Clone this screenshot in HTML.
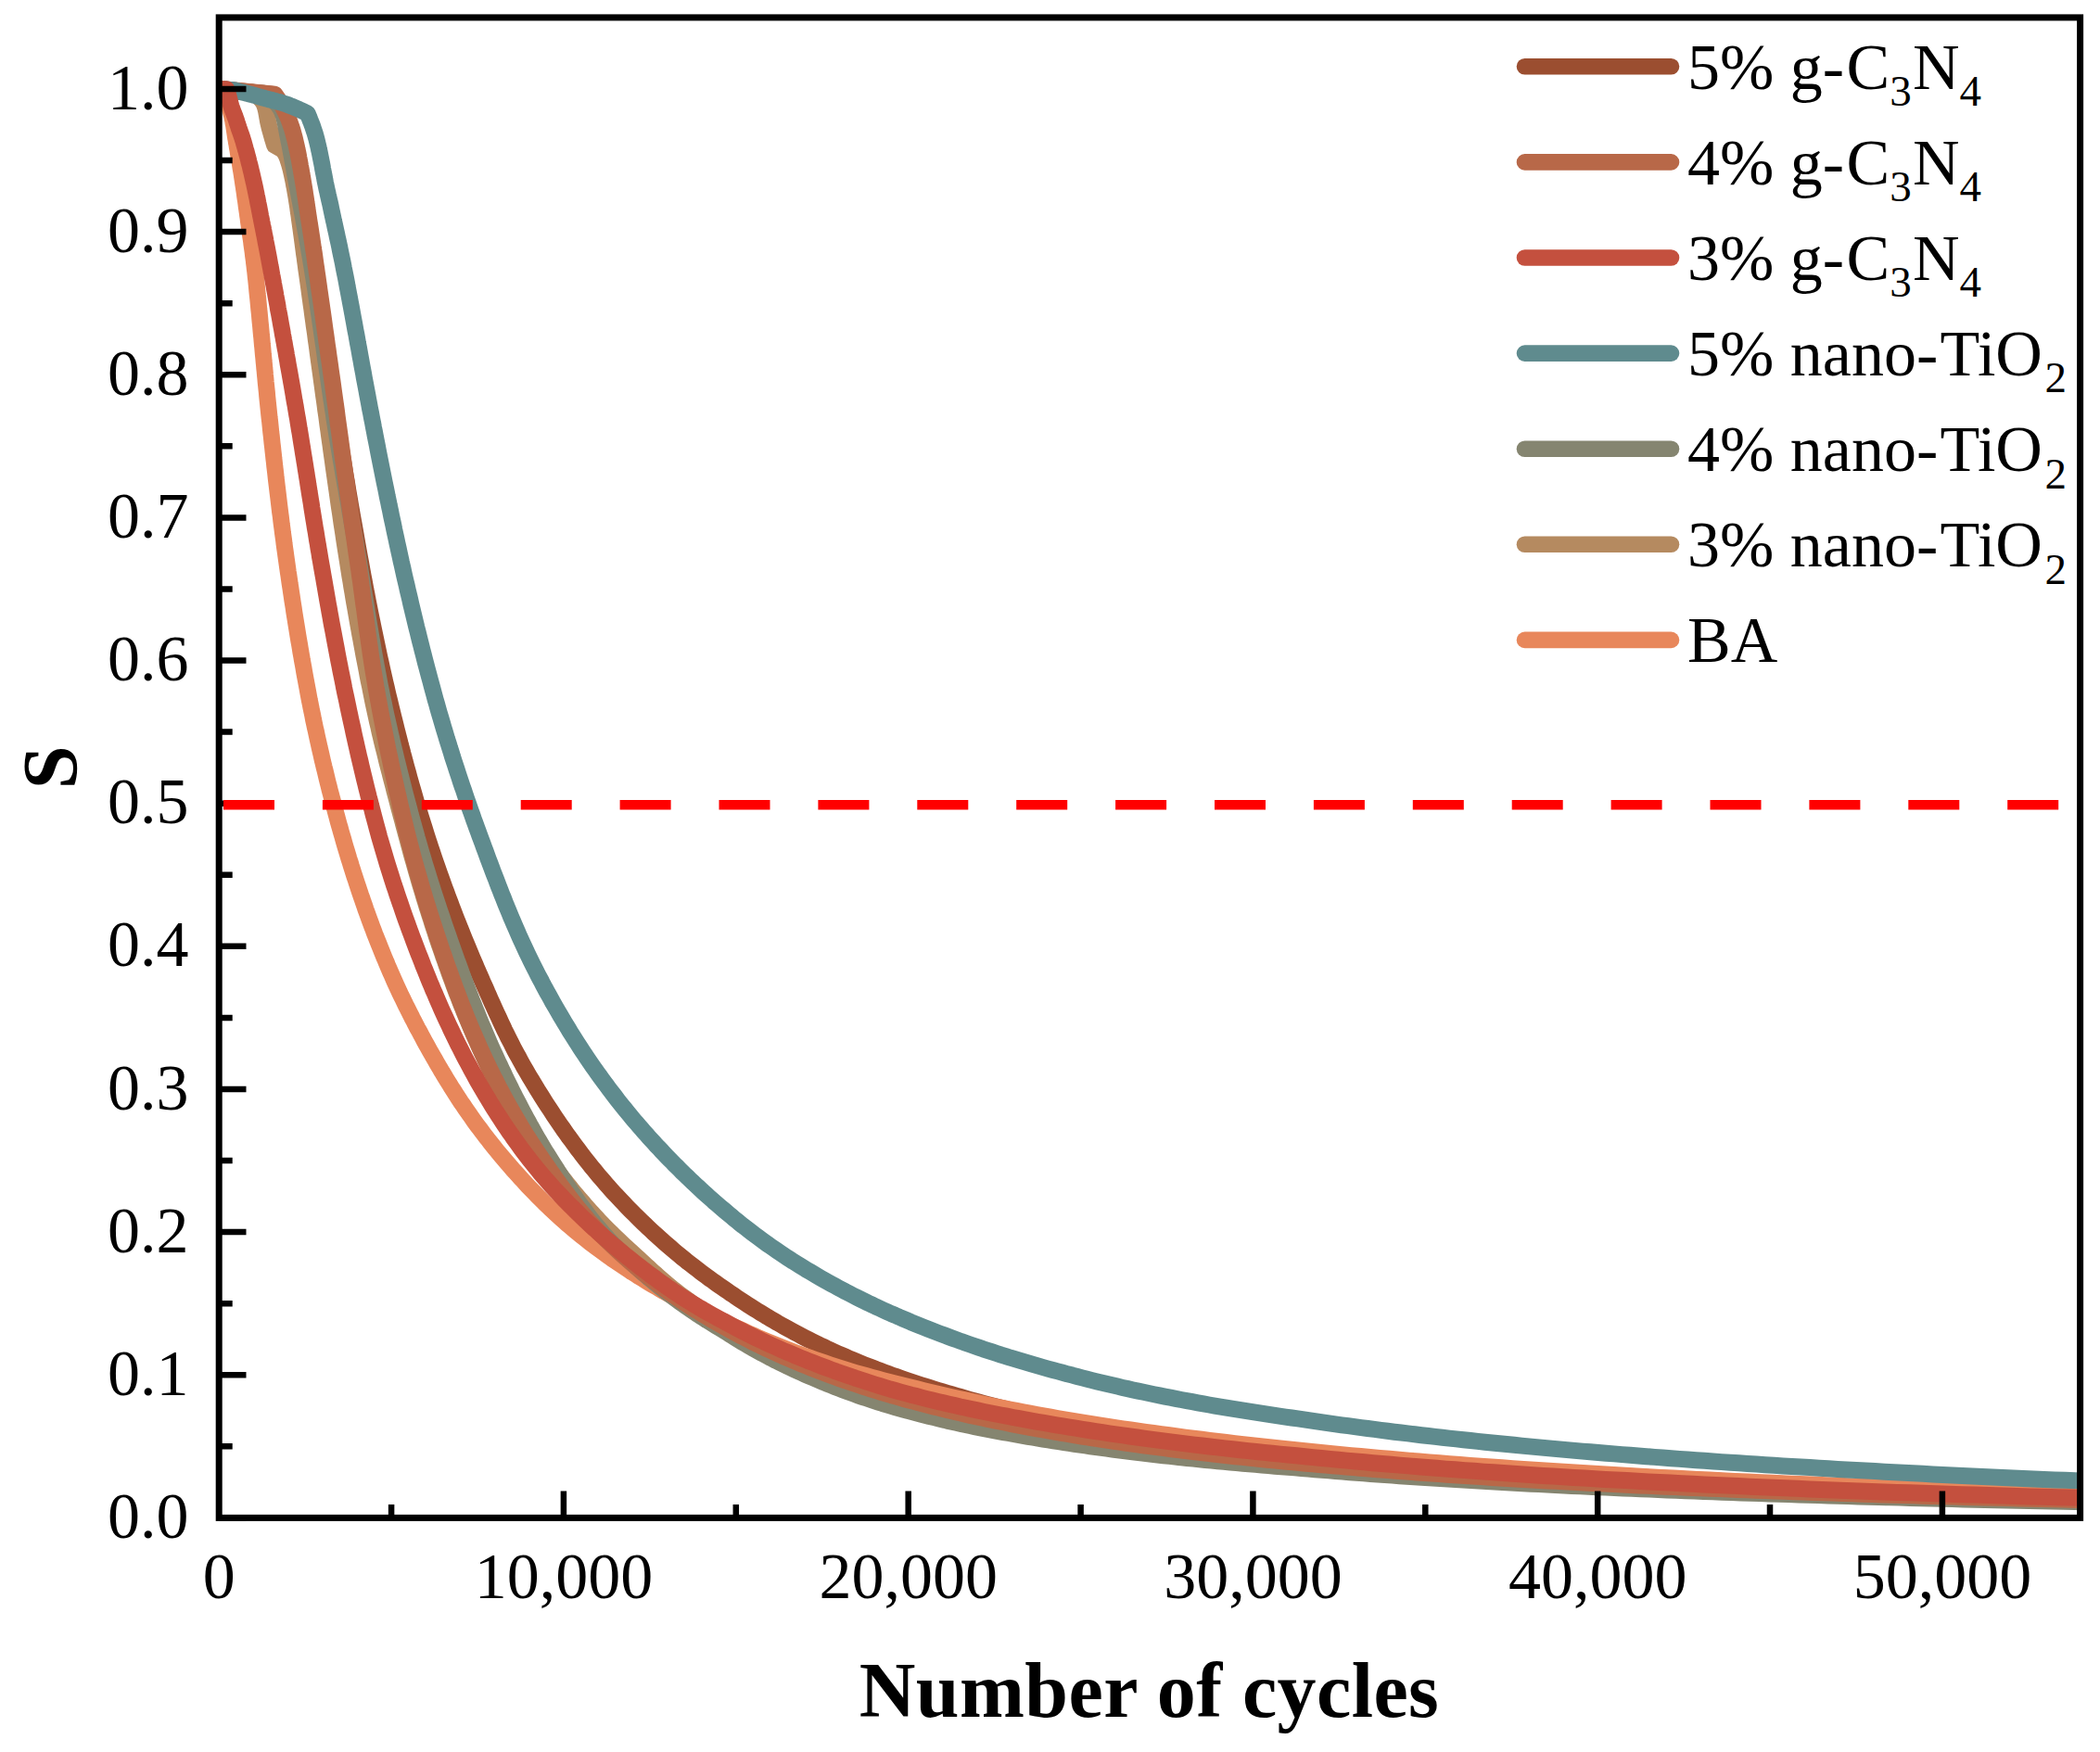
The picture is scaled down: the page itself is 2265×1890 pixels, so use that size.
<!DOCTYPE html>
<html><head><meta charset="utf-8"><title>S vs Number of cycles</title>
<style>html,body{margin:0;padding:0;background:#fff}svg{display:block}</style></head>
<body>
<svg width="2265" height="1890" viewBox="0 0 2265 1890">
<rect width="2265" height="1890" fill="#fff"/>
<defs><clipPath id="c"><rect x="236.2" y="18.9" width="2007.3999999999999" height="1618.5"/></clipPath></defs>
<g clip-path="url(#c)" fill="none" stroke-linejoin="round" stroke-linecap="butt">
<path d="M236.2,96.0 L295.0,102.0 L296.9,104.5 L298.7,107.1 L300.4,109.8 L302.1,112.4 L303.7,115.1 L305.2,117.8 L306.6,120.5 L308.0,123.3 L309.3,126.1 L310.5,128.9 L311.6,131.8 L312.6,134.7 L313.6,137.7 L314.5,140.7 L315.4,143.7 L316.2,146.7 L316.9,149.7 L317.7,152.7 L318.4,155.7 L319.0,158.7 L319.7,161.7 L320.3,164.8 L320.9,167.8 L321.5,170.9 L322.1,174.0 L322.6,177.0 L323.2,180.1 L323.7,183.1 L324.3,186.2 L324.8,189.3 L325.3,192.3 L325.9,195.4 L326.4,198.4 L326.9,201.5 L327.4,204.6 L327.9,207.6 L328.4,210.7 L328.9,213.8 L329.4,216.8 L329.8,219.9 L330.3,223.0 L330.8,226.0 L331.2,229.1 L331.7,232.2 L332.2,235.6 L332.8,239.7 L333.4,243.7 L334.0,247.9 L334.6,252.1 L335.2,256.3 L335.8,260.6 L336.4,265.0 L337.0,269.4 L337.6,273.8 L338.2,278.3 L338.9,282.8 L339.5,287.4 L340.1,292.0 L340.8,296.7 L341.4,301.4 L342.0,306.2 L342.7,311.0 L343.4,315.8 L344.0,320.7 L344.7,325.6 L345.4,330.5 L346.1,335.5 L346.7,340.4 L347.4,345.5 L348.2,350.5 L348.9,355.6 L349.6,360.7 L350.3,365.8 L351.0,370.9 L351.8,376.1 L352.5,381.3 L353.2,386.5 L354.0,391.7 L354.8,396.9 L355.5,402.2 L356.3,407.4 L357.0,412.7 L357.8,418.0 L358.6,423.2 L359.4,428.5 L360.2,433.8 L361.0,439.1 L361.8,444.4 L362.5,449.7 L363.4,455.1 L364.2,460.4 L365.0,465.7 L365.8,471.0 L366.7,476.3 L367.5,481.6 L368.3,486.9 L369.2,492.2 L370.1,497.5 L370.9,502.8 L371.8,508.1 L372.7,513.4 L373.6,518.6 L374.5,523.9 L375.3,529.2 L376.2,534.4 L377.1,539.6 L378.0,544.9 L378.9,550.1 L379.8,555.3 L380.7,560.4 L381.7,565.6 L382.6,570.8 L383.5,575.9 L384.4,581.0 L385.3,586.2 L386.2,591.3 L387.1,596.4 L388.0,601.4 L389.0,606.5 L389.9,611.5 L390.8,616.5 L391.7,621.6 L392.7,626.5 L393.6,631.5 L394.5,636.5 L395.5,641.4 L396.4,646.4 L397.4,651.3 L398.4,656.2 L399.3,661.0 L400.3,665.9 L401.3,670.7 L402.3,675.6 L403.3,680.4 L404.3,685.2 L405.3,689.9 L406.3,694.7 L407.3,699.4 L408.3,704.2 L409.3,708.9 L410.4,713.6 L411.4,718.2 L412.4,722.9 L413.5,727.5 L414.5,732.2 L415.6,736.8 L416.7,741.4 L417.7,745.9 L418.8,750.5 L419.9,755.0 L421.0,759.6 L422.1,764.1 L423.2,768.6 L424.3,773.1 L425.4,777.5 L426.5,782.0 L427.6,786.4 L428.7,790.9 L429.9,795.3 L431.0,799.7 L432.1,804.1 L433.3,808.4 L434.4,812.8 L435.6,817.1 L436.7,821.5 L437.9,825.8 L439.1,830.1 L440.3,834.4 L441.4,838.7 L442.6,843.0 L443.8,847.2 L445.1,851.5 L446.3,855.7 L447.5,859.9 L448.7,864.1 L450.0,868.3 L451.2,872.5 L452.5,876.7 L453.8,880.9 L455.1,885.0 L456.4,889.2 L457.7,893.3 L459.0,897.4 L460.3,901.6 L461.6,905.7 L463.0,909.8 L464.3,913.9 L465.7,917.9 L467.0,922.0 L468.4,926.1 L469.8,930.1 L471.2,934.2 L472.6,938.2 L474.0,942.2 L475.5,946.3 L476.9,950.3 L478.3,954.3 L479.8,958.3 L481.3,962.2 L482.7,966.2 L484.2,970.2 L485.7,974.1 L487.2,978.1 L488.7,982.0 L490.2,986.0 L491.7,989.9 L493.3,993.8 L494.8,997.7 L496.4,1001.6 L497.9,1005.5 L499.5,1009.4 L501.1,1013.3 L502.7,1017.2 L504.3,1021.0 L505.9,1024.9 L507.5,1028.7 L509.1,1032.6 L510.7,1036.4 L512.4,1040.2 L514.0,1044.1 L515.7,1047.9 L517.3,1051.7 L519.0,1055.5 L520.6,1059.2 L522.3,1063.0 L524.0,1066.8 L525.6,1070.6 L527.3,1074.3 L528.9,1078.0 L530.6,1081.8 L532.3,1085.5 L534.0,1089.2 L535.7,1092.9 L537.4,1096.6 L539.1,1100.3 L540.8,1104.0 L542.6,1107.7 L544.3,1111.4 L546.1,1115.0 L547.9,1118.7 L549.7,1122.3 L551.6,1125.9 L553.4,1129.6 L555.3,1133.2 L557.2,1136.8 L559.2,1140.3 L561.1,1143.9 L563.1,1147.5 L565.1,1151.1 L567.2,1154.6 L569.2,1158.1 L571.3,1161.7 L573.4,1165.2 L575.5,1168.7 L577.6,1172.2 L579.7,1175.7 L581.9,1179.1 L584.1,1182.6 L586.2,1186.0 L588.4,1189.5 L590.6,1192.9 L592.9,1196.3 L595.1,1199.7 L597.3,1203.1 L599.6,1206.5 L601.9,1209.8 L604.2,1213.2 L606.5,1216.5 L608.8,1219.9 L611.2,1223.2 L613.5,1226.5 L615.9,1229.7 L618.3,1233.0 L620.7,1236.3 L623.1,1239.5 L625.6,1242.7 L628.0,1246.0 L630.5,1249.2 L633.0,1252.3 L635.5,1255.5 L638.0,1258.7 L640.6,1261.8 L643.1,1264.9 L645.7,1268.1 L648.4,1271.2 L651.0,1274.2 L653.7,1277.3 L656.4,1280.4 L659.1,1283.4 L661.8,1286.4 L664.6,1289.4 L667.4,1292.4 L670.2,1295.4 L673.0,1298.3 L675.8,1301.3 L678.6,1304.2 L681.5,1307.1 L684.4,1310.0 L687.3,1312.9 L690.2,1315.7 L693.1,1318.6 L696.1,1321.4 L699.0,1324.2 L702.0,1327.0 L705.0,1329.8 L708.0,1332.5 L711.0,1335.2 L714.1,1338.0 L717.1,1340.7 L720.2,1343.4 L723.3,1346.0 L726.4,1348.7 L729.5,1351.3 L732.6,1353.9 L735.7,1356.5 L738.9,1359.1 L742.1,1361.7 L745.4,1364.2 L748.6,1366.7 L751.9,1369.2 L755.1,1371.7 L758.5,1374.2 L761.8,1376.7 L765.1,1379.1 L768.5,1381.5 L771.8,1383.9 L775.2,1386.3 L778.6,1388.7 L782.0,1391.0 L785.5,1393.4 L788.9,1395.8 L792.4,1398.1 L795.8,1400.5 L799.3,1402.8 L802.8,1405.1 L806.3,1407.3 L809.9,1409.6 L813.4,1411.8 L816.9,1414.0 L820.5,1416.2 L824.1,1418.4 L827.6,1420.6 L831.2,1422.7 L834.8,1424.8 L838.5,1427.0 L842.1,1429.0 L845.8,1431.1 L849.5,1433.2 L853.2,1435.2 L857.0,1437.2 L860.7,1439.2 L864.5,1441.2 L868.3,1443.2 L872.1,1445.1 L876.0,1447.0 L879.9,1449.0 L883.7,1450.9 L887.7,1452.7 L891.6,1454.6 L895.6,1456.4 L899.6,1458.3 L903.6,1460.1 L907.6,1461.8 L911.7,1463.6 L915.8,1465.4 L919.9,1467.1 L924.0,1468.8 L928.2,1470.5 L932.3,1472.2 L936.6,1473.9 L940.8,1475.5 L945.0,1477.2 L949.3,1478.8 L953.7,1480.4 L958.0,1482.0 L962.4,1483.6 L966.8,1485.1 L971.2,1486.7 L975.6,1488.2 L980.1,1489.7 L984.6,1491.2 L989.1,1492.7 L993.7,1494.2 L998.3,1495.6 L1002.9,1497.1 L1007.5,1498.5 L1012.2,1500.0 L1016.9,1501.4 L1021.6,1502.8 L1026.4,1504.2 L1031.2,1505.6 L1036.0,1507.0 L1040.8,1508.4 L1045.7,1509.8 L1050.6,1511.2 L1055.5,1512.5 L1060.5,1513.9 L1065.4,1515.2 L1070.4,1516.5 L1075.5,1517.8 L1080.6,1519.0 L1085.7,1520.3 L1090.8,1521.5 L1096.0,1522.7 L1101.1,1523.9 L1106.4,1525.0 L1111.6,1526.2 L1116.9,1527.3 L1122.2,1528.4 L1127.6,1529.5 L1133.0,1530.6 L1138.4,1531.7 L1143.8,1532.7 L1149.3,1533.8 L1154.8,1534.8 L1160.4,1535.9 L1166.0,1536.9 L1171.6,1537.9 L1177.3,1538.9 L1182.9,1539.9 L1188.7,1540.8 L1194.4,1541.8 L1200.2,1542.7 L1206.1,1543.7 L1211.9,1544.6 L1217.8,1545.5 L1223.8,1546.4 L1229.7,1547.3 L1235.8,1548.2 L1241.8,1549.1 L1247.9,1550.0 L1254.0,1550.9 L1260.2,1551.7 L1266.4,1552.6 L1272.6,1553.4 L1278.9,1554.2 L1285.2,1555.0 L1291.6,1555.8 L1298.0,1556.6 L1304.4,1557.4 L1310.9,1558.2 L1317.4,1559.0 L1324.0,1559.7 L1330.6,1560.5 L1337.2,1561.2 L1343.9,1561.9 L1350.7,1562.7 L1357.5,1563.4 L1364.4,1564.1 L1371.3,1564.8 L1378.2,1565.5 L1385.2,1566.2 L1392.3,1566.9 L1399.3,1567.5 L1406.4,1568.2 L1413.6,1568.9 L1420.8,1569.5 L1428.0,1570.2 L1435.3,1570.8 L1442.7,1571.5 L1450.1,1572.1 L1457.5,1572.7 L1465.0,1573.3 L1472.5,1573.9 L1480.0,1574.6 L1487.6,1575.2 L1495.3,1575.7 L1503.0,1576.3 L1510.8,1576.9 L1518.5,1577.5 L1526.4,1578.1 L1534.3,1578.6 L1542.2,1579.2 L1550.2,1579.7 L1558.3,1580.3 L1566.3,1580.8 L1574.5,1581.4 L1582.7,1581.9 L1590.9,1582.4 L1599.2,1582.9 L1607.5,1583.5 L1615.9,1584.1 L1624.4,1584.7 L1632.9,1585.2 L1641.4,1585.8 L1650.0,1586.4 L1658.6,1586.9 L1667.3,1587.5 L1676.1,1588.0 L1684.9,1588.6 L1693.8,1589.1 L1702.7,1589.6 L1711.7,1590.2 L1720.7,1590.7 L1729.8,1591.2 L1738.9,1591.8 L1748.1,1592.3 L1757.4,1592.8 L1766.7,1593.3 L1776.0,1593.8 L1785.4,1594.3 L1794.9,1594.8 L1804.5,1595.3 L1814.0,1595.8 L1823.7,1596.3 L1833.4,1596.8 L1843.2,1597.3 L1853.0,1597.8 L1862.9,1598.2 L1872.9,1598.7 L1882.9,1599.2 L1892.9,1599.7 L1903.1,1600.1 L1913.3,1600.6 L1923.5,1601.1 L1933.9,1601.5 L1944.2,1602.0 L1954.7,1602.4 L1965.2,1602.9 L1975.8,1603.3 L1986.4,1603.8 L1997.1,1604.2 L2007.9,1604.6 L2018.7,1605.1 L2029.7,1605.5 L2040.6,1606.0 L2051.7,1606.4 L2062.8,1606.8 L2073.9,1607.2 L2085.2,1607.7 L2096.5,1608.1 L2107.9,1608.5 L2119.3,1608.9 L2130.8,1609.3 L2142.4,1609.7 L2154.1,1610.1 L2165.8,1610.5 L2177.6,1610.9 L2189.5,1611.3 L2201.5,1611.7 L2213.5,1612.1 L2225.6,1612.5 L2237.8,1612.9 L2250.0,1613.3" stroke="#9b4e30" stroke-width="18"/>
<path d="M226.0,96.5 L236.2,96.5 L238.3,98.2 L240.1,100.1 L241.5,102.2 L242.8,104.5 L244.0,106.9 L245.1,109.3 L246.1,111.9 L247.0,114.5 L247.9,117.1 L248.7,119.7 L249.4,122.3 L250.1,124.9 L250.6,127.4 L251.2,130.0 L251.6,132.7 L252.1,135.3 L252.5,138.0 L252.9,140.6 L253.3,143.3 L253.7,145.9 L254.1,148.5 L254.6,151.2 L255.0,153.8 L255.5,156.4 L255.9,159.1 L256.4,161.7 L256.8,164.3 L257.2,166.9 L257.7,169.6 L258.1,172.2 L258.6,174.8 L259.0,177.5 L259.4,180.1 L259.8,182.7 L260.3,185.4 L260.7,188.0 L261.1,190.6 L261.5,193.3 L261.9,195.9 L262.3,198.6 L262.7,201.2 L263.1,203.8 L263.5,206.5 L263.9,209.1 L264.2,211.7 L264.6,214.4 L265.0,217.0 L265.4,219.7 L265.7,222.3 L266.1,224.9 L266.5,227.6 L266.9,230.2 L267.2,232.9 L267.6,235.4 L267.9,237.9 L268.2,240.4 L268.6,242.9 L268.9,245.4 L269.3,248.0 L269.7,250.6 L270.0,253.2 L270.4,255.9 L270.8,258.5 L271.2,261.2 L271.5,264.0 L271.9,266.7 L272.3,269.5 L272.7,272.3 L273.0,275.2 L273.4,278.0 L273.8,280.9 L274.1,283.8 L274.5,286.8 L274.8,289.7 L275.2,292.7 L275.5,295.7 L275.8,298.8 L276.2,301.8 L276.5,304.9 L276.8,308.0 L277.1,311.2 L277.4,314.3 L277.7,317.5 L278.1,320.8 L278.4,324.0 L278.7,327.3 L279.0,330.5 L279.3,333.8 L279.7,337.2 L280.0,340.5 L280.3,343.9 L280.6,347.3 L281.0,350.7 L281.3,354.2 L281.6,357.6 L281.9,361.1 L282.3,364.6 L282.6,368.2 L282.9,371.7 L283.3,375.3 L283.6,378.9 L283.9,382.5 L284.3,386.1 L284.6,389.8 L285.0,393.5 L285.3,397.2 L285.7,400.9 L286.0,404.6 L286.4,408.4 L286.7,412.1 L287.1,415.9 L287.5,419.7 L287.9,423.5 L288.2,427.4 L288.6,431.2 L289.0,435.1 L289.4,439.0 L289.8,442.9 L290.2,446.8 L290.6,450.7 L291.1,454.7 L291.5,458.6 L291.9,462.6 L292.3,466.6 L292.8,470.6 L293.2,474.6 L293.6,478.6 L294.1,482.7 L294.5,486.7 L295.0,490.8 L295.4,494.9 L295.9,499.0 L296.3,503.1 L296.8,507.2 L297.3,511.3 L297.7,515.5 L298.2,519.6 L298.7,523.8 L299.2,527.9 L299.7,532.1 L300.2,536.3 L300.7,540.5 L301.2,544.7 L301.7,548.9 L302.2,553.1 L302.8,557.3 L303.3,561.6 L303.8,565.8 L304.4,570.0 L304.9,574.3 L305.5,578.6 L306.1,582.8 L306.6,587.1 L307.2,591.4 L307.8,595.6 L308.4,599.9 L309.0,604.2 L309.6,608.5 L310.2,612.8 L310.8,617.1 L311.5,621.4 L312.1,625.7 L312.7,630.0 L313.4,634.3 L314.0,638.6 L314.7,643.0 L315.3,647.3 L316.0,651.6 L316.7,655.9 L317.3,660.2 L318.0,664.6 L318.7,668.9 L319.4,673.2 L320.1,677.5 L320.8,681.9 L321.5,686.2 L322.2,690.5 L323.0,694.8 L323.7,699.1 L324.4,703.5 L325.2,707.8 L325.9,712.1 L326.7,716.4 L327.5,720.7 L328.2,725.0 L329.0,729.3 L329.8,733.6 L330.6,737.9 L331.4,742.2 L332.2,746.5 L333.0,750.8 L333.8,755.1 L334.7,759.4 L335.5,763.7 L336.4,767.9 L337.3,772.2 L338.1,776.5 L339.0,780.7 L339.9,785.0 L340.9,789.2 L341.8,793.5 L342.7,797.7 L343.7,802.0 L344.6,806.2 L345.6,810.4 L346.6,814.6 L347.5,818.8 L348.5,823.0 L349.5,827.2 L350.6,831.4 L351.6,835.6 L352.6,839.8 L353.6,844.0 L354.7,848.1 L355.7,852.3 L356.8,856.4 L357.9,860.6 L359.0,864.7 L360.1,868.8 L361.2,873.0 L362.3,877.1 L363.4,881.2 L364.5,885.3 L365.6,889.3 L366.8,893.4 L367.9,897.5 L369.1,901.5 L370.3,905.6 L371.4,909.6 L372.6,913.7 L373.8,917.7 L375.0,921.7 L376.2,925.7 L377.5,929.7 L378.7,933.7 L380.0,937.7 L381.2,941.6 L382.5,945.6 L383.8,949.5 L385.1,953.5 L386.4,957.4 L387.7,961.3 L389.0,965.2 L390.4,969.1 L391.7,973.0 L393.1,976.9 L394.4,980.8 L395.8,984.6 L397.2,988.5 L398.6,992.3 L400.0,996.1 L401.4,1000.0 L402.9,1003.8 L404.3,1007.6 L405.8,1011.3 L407.3,1015.1 L408.8,1018.9 L410.3,1022.6 L411.8,1026.4 L413.3,1030.1 L414.8,1033.8 L416.4,1037.5 L417.9,1041.2 L419.5,1044.9 L421.1,1048.6 L422.7,1052.2 L424.3,1055.9 L425.9,1059.5 L427.6,1063.2 L429.3,1066.8 L430.9,1070.4 L432.6,1074.0 L434.4,1077.6 L436.1,1081.1 L437.8,1084.7 L439.6,1088.2 L441.4,1091.8 L443.2,1095.3 L444.9,1098.8 L446.8,1102.3 L448.6,1105.8 L450.4,1109.3 L452.3,1112.7 L454.1,1116.2 L456.0,1119.6 L457.8,1123.1 L459.7,1126.5 L461.6,1129.9 L463.5,1133.3 L465.4,1136.7 L467.3,1140.0 L469.3,1143.4 L471.2,1146.8 L473.1,1150.1 L475.1,1153.4 L477.0,1156.7 L479.0,1160.0 L481.0,1163.3 L483.0,1166.6 L485.0,1169.8 L487.0,1173.1 L489.1,1176.3 L491.2,1179.6 L493.2,1182.8 L495.3,1186.0 L497.4,1189.2 L499.6,1192.3 L501.7,1195.5 L503.9,1198.7 L506.1,1201.8 L508.3,1204.9 L510.5,1208.1 L512.7,1211.2 L515.0,1214.3 L517.3,1217.3 L519.6,1220.4 L521.9,1223.5 L524.2,1226.5 L526.6,1229.5 L528.9,1232.5 L531.3,1235.6 L533.7,1238.5 L536.1,1241.5 L538.6,1244.5 L541.1,1247.5 L543.6,1250.4 L546.1,1253.3 L548.6,1256.3 L551.1,1259.2 L553.6,1262.1 L556.2,1264.9 L558.8,1267.8 L561.4,1270.7 L564.0,1273.5 L566.6,1276.3 L569.2,1279.2 L571.9,1282.0 L574.6,1284.8 L577.3,1287.6 L580.0,1290.3 L582.7,1293.1 L585.5,1295.8 L588.3,1298.6 L591.1,1301.3 L593.9,1304.0 L596.8,1306.7 L599.7,1309.4 L602.6,1312.0 L605.6,1314.7 L608.5,1317.3 L611.5,1320.0 L614.6,1322.6 L617.6,1325.2 L620.7,1327.8 L623.8,1330.4 L627.0,1333.0 L630.2,1335.5 L633.4,1338.1 L636.6,1340.6 L639.9,1343.1 L643.2,1345.6 L646.6,1348.1 L650.0,1350.6 L653.4,1353.1 L656.9,1355.5 L660.3,1358.0 L663.8,1360.4 L667.4,1362.8 L670.9,1365.2 L674.5,1367.6 L678.2,1370.0 L681.8,1372.4 L685.5,1374.7 L689.2,1377.1 L693.0,1379.4 L696.8,1381.7 L700.6,1384.1 L704.5,1386.3 L708.4,1388.6 L712.3,1390.9 L716.2,1393.2 L720.2,1395.4 L724.3,1397.6 L728.3,1399.9 L732.4,1402.1 L736.6,1404.3 L740.7,1406.4 L745.0,1408.6 L749.2,1410.8 L753.5,1412.9 L757.8,1415.1 L762.2,1417.2 L766.6,1419.3 L771.0,1421.4 L775.5,1423.5 L780.0,1425.5 L784.6,1427.8 L789.2,1430.0 L793.8,1432.2 L798.5,1434.3 L803.2,1436.5 L807.9,1438.6 L812.7,1440.8 L817.5,1442.9 L822.4,1445.0 L827.3,1447.0 L832.3,1449.1 L837.3,1451.1 L842.3,1453.1 L847.4,1455.1 L852.5,1457.1 L857.6,1459.1 L862.8,1461.0 L868.1,1462.9 L873.4,1464.8 L878.7,1466.7 L884.1,1468.6 L889.5,1470.4 L895.0,1472.2 L900.5,1474.0 L906.1,1475.8 L911.7,1477.6 L917.3,1479.3 L923.0,1481.0 L928.8,1482.7 L934.6,1484.3 L940.4,1485.9 L946.3,1487.5 L952.3,1489.1 L958.3,1490.7 L964.3,1492.2 L970.4,1493.8 L976.6,1495.3 L982.8,1496.8 L989.0,1498.3 L995.3,1499.9 L1001.7,1501.4 L1008.1,1502.9 L1014.5,1504.5 L1021.1,1506.0 L1027.6,1507.5 L1034.3,1509.0 L1040.9,1510.4 L1047.7,1511.9 L1054.5,1513.4 L1061.3,1514.8 L1068.2,1516.2 L1075.2,1517.7 L1082.2,1519.1 L1089.3,1520.5 L1096.5,1521.9 L1103.7,1523.3 L1110.9,1524.6 L1118.3,1526.0 L1125.6,1527.3 L1133.1,1528.7 L1140.6,1530.0 L1148.2,1531.3 L1155.8,1532.6 L1163.5,1533.9 L1171.3,1535.1 L1179.1,1536.4 L1187.0,1537.6 L1195.0,1538.9 L1203.0,1540.1 L1211.1,1541.3 L1219.2,1542.5 L1227.5,1543.7 L1235.8,1544.9 L1244.1,1546.0 L1252.6,1547.2 L1261.1,1548.3 L1269.7,1549.5 L1278.3,1550.6 L1287.1,1551.7 L1295.9,1552.8 L1304.7,1553.9 L1313.7,1555.0 L1322.7,1556.0 L1331.8,1557.1 L1341.0,1558.1 L1350.2,1559.2 L1359.6,1560.2 L1369.0,1561.2 L1378.4,1562.2 L1388.0,1563.2 L1397.7,1564.2 L1407.4,1565.2 L1417.2,1566.2 L1427.1,1567.2 L1437.0,1568.1 L1447.1,1569.1 L1457.2,1570.1 L1467.5,1571.0 L1477.8,1572.0 L1488.2,1572.9 L1498.7,1573.8 L1509.2,1574.7 L1519.9,1575.6 L1530.6,1576.5 L1541.5,1577.4 L1552.4,1578.3 L1563.4,1579.2 L1574.5,1580.0 L1585.7,1580.9 L1597.0,1581.7 L1608.4,1582.5 L1619.9,1583.3 L1631.5,1584.2 L1643.2,1585.0 L1655.0,1585.7 L1666.9,1586.5 L1678.8,1587.3 L1690.9,1588.1 L1703.1,1588.8 L1715.4,1589.6 L1727.8,1590.3 L1740.3,1591.1 L1752.9,1591.8 L1765.6,1592.5 L1778.4,1593.2 L1791.3,1593.9 L1804.3,1594.6 L1817.4,1595.3 L1830.7,1595.9 L1844.0,1596.6 L1857.5,1597.3 L1871.1,1597.9 L1884.8,1598.6 L1898.6,1599.2 L1912.5,1599.8 L1926.5,1600.4 L1940.7,1601.0 L1954.9,1601.6 L1969.3,1602.2 L1983.8,1602.8 L1998.5,1603.4 L2013.2,1604.0 L2028.1,1604.5 L2043.1,1605.1 L2058.2,1605.6 L2073.5,1606.2 L2088.9,1606.7 L2104.4,1607.3 L2120.0,1607.8 L2135.8,1608.3 L2151.7,1608.8 L2167.8,1609.3 L2183.9,1609.8 L2200.2,1610.3 L2216.7,1610.8 L2233.3,1611.2 L2250.0,1611.7" stroke="#e8875b" stroke-width="18"/>
<path d="M236.2,97.0 L272.0,99.5 L274.0,100.9 L275.9,102.3 L277.8,103.8 L279.5,105.3 L281.1,106.9 L282.5,108.6 L283.7,110.3 L284.7,112.0 L285.4,113.9 L286.1,115.8 L286.6,117.9 L287.1,120.0 L287.5,122.2 L287.9,124.4 L288.3,126.7 L288.7,128.9 L289.1,131.2 L289.6,133.4 L290.1,135.6 L290.6,137.7 L291.2,139.9 L291.8,142.0 L292.4,144.1 L293.0,146.2 L293.6,148.4 L294.2,150.5 L294.9,152.6 L295.5,154.7 L296.2,156.8 L305.8,162.3 L306.9,164.4 L308.1,166.4 L309.1,168.5 L310.0,170.7 L310.7,172.8 L311.4,175.0 L312.1,177.2 L312.7,179.5 L313.3,181.7 L313.9,184.0 L314.4,186.3 L314.9,188.5 L315.4,190.8 L315.9,193.2 L316.4,195.5 L316.8,197.8 L317.2,200.1 L317.7,202.4 L318.1,204.7 L318.5,207.0 L318.9,209.3 L319.2,211.1 L319.7,214.1 L320.2,217.2 L320.7,220.4 L321.2,223.6 L321.6,226.8 L322.1,230.1 L322.6,233.4 L323.0,236.8 L323.5,240.3 L324.0,243.8 L324.5,247.3 L325.0,250.9 L325.5,254.6 L326.0,258.3 L326.5,262.0 L327.0,265.8 L327.5,269.7 L328.0,273.6 L328.6,277.5 L329.1,281.5 L329.7,285.6 L330.2,289.7 L330.8,293.8 L331.4,298.0 L332.0,302.2 L332.6,306.5 L333.2,310.9 L333.8,315.2 L334.4,319.7 L335.0,324.1 L335.6,328.6 L336.3,333.2 L336.9,337.8 L337.5,342.4 L338.2,347.1 L338.8,351.8 L339.5,356.5 L340.2,361.3 L340.8,366.2 L341.5,371.0 L342.2,375.9 L342.8,380.9 L343.5,385.9 L344.2,390.9 L344.9,395.9 L345.6,401.0 L346.3,406.1 L347.0,411.2 L347.7,416.4 L348.4,421.6 L349.1,426.8 L349.9,432.1 L350.6,437.4 L351.3,442.7 L352.1,448.0 L352.8,453.4 L353.5,458.8 L354.3,464.2 L355.0,469.6 L355.8,475.1 L356.6,480.6 L357.3,486.1 L358.1,491.6 L358.9,497.1 L359.6,502.6 L360.4,508.2 L361.2,513.8 L362.0,519.4 L362.8,525.0 L363.6,530.6 L364.4,536.2 L365.2,541.9 L366.0,547.5 L366.9,553.2 L367.7,558.8 L368.5,564.5 L369.4,570.2 L370.3,575.9 L371.1,581.6 L372.0,587.3 L372.9,593.0 L373.8,598.7 L374.7,604.4 L375.6,610.1 L376.5,615.8 L377.4,621.5 L378.4,627.3 L379.3,633.0 L380.3,638.7 L381.2,644.4 L382.2,650.1 L383.2,655.8 L384.2,661.5 L385.2,667.2 L386.2,672.9 L387.2,678.5 L388.2,684.2 L389.3,689.9 L390.3,695.5 L391.4,701.2 L392.4,706.8 L393.5,712.4 L394.6,718.1 L395.7,723.7 L396.7,729.3 L397.8,734.9 L399.0,740.4 L400.1,746.0 L401.2,751.5 L402.3,757.1 L403.5,762.6 L404.7,768.1 L405.9,773.6 L407.1,779.1 L408.4,784.5 L409.6,790.0 L410.9,795.4 L412.2,800.8 L413.5,806.2 L414.9,811.6 L416.2,816.9 L417.5,822.3 L418.9,827.6 L420.3,832.9 L421.6,838.2 L423.0,843.5 L424.4,848.7 L425.7,854.0 L427.1,859.2 L428.5,864.4 L429.8,869.5 L431.2,874.7 L432.6,879.8 L434.0,884.9 L435.3,890.0 L436.7,895.1 L438.0,900.1 L439.4,905.1 L440.7,910.1 L442.1,915.1 L443.4,920.1 L444.8,925.0 L446.2,929.9 L447.6,934.8 L449.0,939.7 L450.4,944.6 L451.8,949.4 L453.2,954.2 L454.7,959.0 L456.1,963.7 L457.5,968.5 L459.0,973.2 L460.4,977.9 L461.9,982.5 L463.4,987.2 L464.9,991.8 L466.3,996.4 L467.8,1001.0 L469.3,1005.5 L470.8,1010.1 L472.3,1014.6 L473.8,1019.0 L475.4,1023.5 L476.9,1027.9 L478.4,1032.4 L480.0,1036.7 L481.5,1041.1 L483.1,1045.5 L484.6,1049.8 L486.2,1054.1 L487.8,1058.3 L489.3,1062.6 L490.9,1066.8 L492.5,1071.0 L494.2,1075.2 L495.8,1079.4 L497.4,1083.5 L499.1,1087.6 L500.7,1091.7 L502.4,1095.8 L504.1,1099.8 L505.8,1103.8 L507.5,1107.8 L509.2,1111.8 L510.9,1115.8 L512.7,1119.7 L514.4,1123.6 L516.2,1127.5 L517.9,1131.4 L519.7,1135.2 L521.5,1139.0 L523.3,1142.8 L525.1,1146.6 L527.0,1150.4 L528.8,1154.1 L530.7,1157.8 L532.7,1161.5 L534.7,1165.1 L536.8,1168.8 L538.9,1172.4 L541.0,1176.0 L543.2,1179.6 L545.4,1183.1 L547.6,1186.7 L549.9,1190.2 L552.1,1193.7 L554.4,1197.2 L556.7,1200.6 L559.0,1204.1 L561.4,1207.5 L563.7,1210.9 L566.0,1214.2 L568.4,1217.6 L570.7,1220.9 L573.0,1224.2 L575.3,1227.5 L577.7,1230.8 L580.0,1234.0 L582.3,1237.2 L584.6,1240.4 L586.8,1243.6 L589.1,1246.8 L591.3,1249.9 L593.6,1253.1 L595.8,1256.2 L598.1,1259.3 L600.4,1262.3 L602.7,1265.4 L605.0,1268.4 L607.3,1271.4 L609.7,1274.4 L612.0,1277.4 L614.4,1280.3 L616.7,1283.3 L619.1,1286.2 L621.5,1289.1 L624.0,1291.9 L626.4,1294.8 L628.9,1297.6 L631.3,1300.5 L633.8,1303.3 L636.3,1306.0 L638.8,1308.8 L641.3,1311.6 L643.9,1314.3 L646.4,1317.0 L649.0,1319.7 L651.6,1322.4 L654.2,1325.0 L656.8,1327.7 L659.5,1330.3 L662.1,1332.9 L664.8,1335.5 L667.5,1338.1 L670.2,1340.6 L672.9,1343.2 L675.6,1345.7 L678.4,1348.2 L681.1,1350.7 L683.9,1353.2 L686.5,1355.6 L689.2,1358.0 L691.8,1360.5 L694.4,1362.9 L697.0,1365.3 L699.6,1367.6 L702.2,1370.0 L704.7,1372.3 L707.3,1374.6 L709.9,1376.9 L712.5,1379.2 L715.1,1381.5 L717.7,1383.8 L720.4,1386.0 L723.1,1388.2 L725.8,1390.4 L728.6,1392.6 L731.4,1394.8 L734.2,1397.0 L737.1,1399.1 L740.1,1401.3 L743.0,1403.4 L746.0,1405.5 L748.9,1407.6 L751.9,1409.7 L755.0,1411.7 L758.0,1413.8 L761.1,1415.8 L764.1,1417.8 L767.3,1419.8 L770.4,1421.8 L773.6,1423.8 L776.9,1425.7 L780.1,1427.7 L783.4,1429.7 L786.8,1431.7 L790.2,1433.7 L793.7,1435.7 L797.2,1437.7 L800.8,1439.6 L804.4,1441.6 L808.0,1443.5 L811.7,1445.4 L815.4,1447.3 L819.1,1449.2 L822.8,1451.1 L826.6,1452.9 L830.4,1454.8 L834.2,1456.6 L838.0,1458.4 L841.9,1460.2 L845.8,1462.0 L849.7,1463.8 L853.6,1465.5 L857.6,1467.3 L861.5,1469.0 L865.5,1470.7 L869.6,1472.4 L873.6,1474.1 L877.7,1475.7 L881.8,1477.4 L886.0,1479.0 L890.1,1480.7 L894.3,1482.3 L898.6,1483.8 L902.8,1485.4 L907.1,1487.0 L911.4,1488.5 L915.7,1490.1 L920.1,1491.6 L924.4,1493.1 L928.9,1494.5 L933.3,1496.0 L937.8,1497.4 L942.3,1498.9 L946.8,1500.3 L951.3,1501.7 L955.9,1503.1 L960.5,1504.4 L965.2,1505.8 L969.9,1507.1 L974.6,1508.4 L979.3,1509.8 L984.1,1511.1 L988.9,1512.3 L993.7,1513.6 L998.5,1514.9 L1003.4,1516.1 L1008.4,1517.3 L1013.3,1518.6 L1018.3,1519.8 L1023.3,1521.0 L1028.3,1522.1 L1033.4,1523.3 L1038.5,1524.5 L1043.7,1525.6 L1048.9,1526.7 L1054.1,1527.9 L1059.3,1529.0 L1064.6,1530.1 L1069.9,1531.2 L1075.2,1532.2 L1080.6,1533.3 L1086.0,1534.4 L1091.5,1535.4 L1097.0,1536.5 L1102.5,1537.5 L1108.0,1538.5 L1113.6,1539.5 L1119.3,1540.5 L1124.9,1541.5 L1130.6,1542.5 L1136.3,1543.5 L1142.1,1544.5 L1147.9,1545.5 L1153.8,1546.4 L1159.7,1547.4 L1165.6,1548.3 L1171.5,1549.3 L1177.5,1550.2 L1183.6,1551.1 L1189.6,1552.0 L1195.7,1552.9 L1201.9,1553.8 L1208.1,1554.7 L1214.3,1555.6 L1220.6,1556.5 L1226.9,1557.3 L1233.3,1558.2 L1239.6,1559.0 L1246.1,1559.9 L1252.6,1560.7 L1259.1,1561.5 L1265.6,1562.3 L1272.2,1563.1 L1278.9,1563.9 L1285.6,1564.7 L1292.3,1565.5 L1299.1,1566.3 L1305.9,1567.1 L1312.7,1567.8 L1319.6,1568.6 L1326.6,1569.3 L1333.6,1570.1 L1340.6,1570.8 L1347.7,1571.5 L1354.8,1572.2 L1362.0,1572.9 L1369.2,1573.7 L1376.5,1574.3 L1383.8,1575.0 L1391.1,1575.7 L1398.5,1576.4 L1406.0,1577.1 L1413.5,1577.8 L1421.0,1578.5 L1428.6,1579.2 L1436.3,1579.9 L1444.0,1580.6 L1451.7,1581.2 L1459.5,1581.9 L1467.3,1582.6 L1475.2,1583.2 L1483.2,1583.8 L1491.2,1584.5 L1499.2,1585.1 L1507.3,1585.7 L1515.5,1586.4 L1523.7,1587.0 L1531.9,1587.6 L1540.2,1588.2 L1548.6,1588.8 L1557.0,1589.4 L1565.5,1590.0 L1574.0,1590.5 L1582.6,1591.1 L1591.2,1591.7 L1599.9,1592.3 L1608.6,1592.8 L1617.4,1593.4 L1626.3,1593.9 L1635.2,1594.5 L1644.2,1595.0 L1653.2,1595.5 L1662.3,1596.0 L1671.4,1596.6 L1680.6,1597.1 L1689.9,1597.6 L1699.2,1598.1 L1708.6,1598.6 L1718.0,1599.1 L1727.5,1599.6 L1737.1,1600.1 L1746.7,1600.5 L1756.4,1601.0 L1766.1,1601.5 L1775.9,1602.0 L1785.8,1602.4 L1795.7,1602.9 L1805.7,1603.3 L1815.8,1603.8 L1825.9,1604.2 L1836.1,1604.6 L1846.4,1605.1 L1856.7,1605.5 L1867.1,1605.9 L1877.6,1606.3 L1888.1,1606.8 L1898.7,1607.2 L1909.3,1607.6 L1920.1,1608.0 L1930.8,1608.4 L1941.7,1608.8 L1952.6,1609.2 L1963.7,1609.5 L1974.7,1609.9 L1985.9,1610.3 L1997.1,1610.7 L2008.4,1611.0 L2019.7,1611.4 L2031.2,1611.8 L2042.7,1612.1 L2054.3,1612.5 L2065.9,1612.8 L2077.7,1613.2 L2089.5,1613.5 L2101.3,1613.9 L2113.3,1614.2 L2125.3,1614.5 L2137.4,1614.8 L2149.6,1615.2 L2161.9,1615.5 L2174.2,1615.8 L2186.7,1616.1 L2199.2,1616.4 L2211.8,1616.7 L2224.4,1617.0 L2237.2,1617.3 L2250.0,1617.6" stroke="#b58a60" stroke-width="18"/>
<path d="M236.2,97.5 L285.0,100.7 L288.0,102.7 L290.8,104.8 L293.5,106.9 L296.0,109.2 L298.3,111.6 L300.3,114.0 L302.1,116.6 L303.6,119.2 L304.7,121.9 L305.7,124.7 L306.6,127.8 L307.3,130.9 L308.0,134.2 L308.6,137.4 L309.3,140.8 L309.9,144.0 L310.5,147.2 L311.2,150.4 L311.8,153.6 L312.5,156.7 L313.1,159.9 L313.7,163.1 L314.3,166.3 L314.9,169.5 L315.4,172.6 L316.0,175.8 L316.6,179.0 L317.2,182.2 L317.7,185.4 L318.3,188.6 L318.9,191.8 L319.5,194.9 L320.1,198.1 L320.7,201.3 L321.3,204.5 L321.9,207.7 L322.5,210.8 L323.1,214.0 L323.7,217.2 L324.3,220.4 L324.9,223.6 L325.5,226.7 L326.1,229.9 L326.7,233.1 L327.3,236.3 L327.7,238.6 L328.3,241.9 L328.9,245.2 L329.5,248.6 L330.2,252.0 L330.8,255.5 L331.4,259.0 L332.0,262.5 L332.7,266.1 L333.3,269.7 L333.9,273.4 L334.6,277.1 L335.2,280.9 L335.8,284.7 L336.5,288.6 L337.1,292.4 L337.7,296.4 L338.4,300.3 L339.0,304.3 L339.6,308.4 L340.3,312.5 L340.9,316.6 L341.5,320.8 L342.1,325.0 L342.8,329.2 L343.4,333.5 L344.0,337.8 L344.7,342.1 L345.3,346.5 L345.9,350.9 L346.6,355.4 L347.2,359.9 L347.9,364.4 L348.5,368.9 L349.2,373.5 L349.8,378.1 L350.5,382.8 L351.1,387.5 L351.8,392.2 L352.5,396.9 L353.2,401.7 L353.9,406.5 L354.6,411.3 L355.3,416.1 L356.0,421.0 L356.7,425.9 L357.4,430.8 L358.2,435.7 L358.9,440.7 L359.7,445.7 L360.4,450.7 L361.2,455.8 L362.0,460.8 L362.8,465.9 L363.6,471.0 L364.5,476.1 L365.3,481.2 L366.2,486.4 L367.0,491.5 L367.9,496.7 L368.8,501.9 L369.7,507.2 L370.6,512.4 L371.5,517.6 L372.4,522.9 L373.4,528.2 L374.3,533.4 L375.2,538.7 L376.2,544.0 L377.1,549.4 L378.0,554.7 L379.0,560.0 L379.9,565.4 L380.9,570.7 L381.8,576.1 L382.8,581.4 L383.7,586.8 L384.6,592.2 L385.5,597.6 L386.5,603.0 L387.4,608.4 L388.3,613.8 L389.2,619.2 L390.1,624.6 L391.0,630.0 L391.8,635.4 L392.7,640.8 L393.6,646.2 L394.5,651.6 L395.4,657.0 L396.2,662.4 L397.1,667.8 L398.0,673.2 L398.9,678.6 L399.8,684.0 L400.7,689.4 L401.7,694.8 L402.6,700.2 L403.5,705.6 L404.5,711.0 L405.5,716.4 L406.5,721.7 L407.5,727.1 L408.5,732.5 L409.5,737.8 L410.6,743.2 L411.7,748.5 L412.7,753.8 L413.9,759.1 L415.0,764.5 L416.1,769.8 L417.3,775.1 L418.5,780.3 L419.7,785.6 L420.9,790.9 L422.1,796.1 L423.3,801.4 L424.5,806.6 L425.8,811.8 L427.0,817.0 L428.3,822.2 L429.6,827.4 L430.9,832.6 L432.2,837.8 L433.5,842.9 L434.8,848.0 L436.1,853.2 L437.4,858.3 L438.8,863.4 L440.1,868.5 L441.5,873.5 L442.8,878.6 L444.2,883.6 L445.6,888.6 L447.0,893.6 L448.4,898.6 L449.7,903.6 L451.2,908.6 L452.6,913.5 L454.0,918.4 L455.5,923.4 L456.9,928.3 L458.4,933.1 L459.9,938.0 L461.4,942.8 L462.9,947.7 L464.4,952.5 L466.0,957.3 L467.5,962.1 L469.0,966.8 L470.6,971.6 L472.2,976.3 L473.7,981.0 L475.3,985.7 L476.9,990.3 L478.4,995.0 L480.0,999.6 L481.6,1004.2 L483.2,1008.8 L484.8,1013.4 L486.4,1018.0 L488.0,1022.5 L489.6,1027.0 L491.2,1031.5 L492.8,1036.0 L494.5,1040.5 L496.1,1044.9 L497.7,1049.4 L499.3,1053.8 L500.9,1058.1 L502.6,1062.5 L504.2,1066.8 L505.9,1071.2 L507.5,1075.5 L509.2,1079.8 L510.9,1084.0 L512.6,1088.3 L514.3,1092.5 L516.0,1096.7 L517.7,1100.9 L519.4,1105.1 L521.2,1109.2 L522.9,1113.3 L524.7,1117.4 L526.5,1121.5 L528.2,1125.6 L530.0,1129.6 L531.8,1133.6 L533.7,1137.6 L535.5,1141.6 L537.3,1145.6 L539.2,1149.5 L541.0,1153.4 L542.9,1157.3 L544.7,1161.2 L546.6,1165.1 L548.5,1168.9 L550.4,1172.7 L552.2,1176.5 L554.1,1180.3 L556.0,1184.0 L557.9,1187.7 L559.9,1191.5 L561.8,1195.1 L563.7,1198.8 L565.7,1202.5 L567.6,1206.1 L569.6,1209.7 L571.5,1213.3 L573.5,1216.8 L575.5,1220.4 L577.5,1223.9 L579.5,1227.4 L581.6,1230.9 L583.6,1234.3 L585.7,1237.8 L587.7,1241.2 L589.8,1244.6 L591.9,1247.9 L594.0,1251.3 L596.1,1254.6 L598.2,1257.9 L600.3,1261.2 L602.4,1264.5 L604.5,1267.8 L606.5,1271.0 L608.6,1274.2 L610.7,1277.4 L612.8,1280.5 L614.9,1283.7 L617.0,1286.8 L619.2,1289.9 L621.3,1293.0 L623.5,1296.1 L625.6,1299.1 L627.8,1302.1 L630.1,1305.1 L632.3,1308.1 L634.5,1311.1 L636.8,1314.0 L639.1,1317.0 L641.5,1319.9 L643.8,1322.7 L646.2,1325.6 L648.6,1328.4 L651.1,1331.3 L653.6,1334.1 L656.1,1336.9 L658.6,1339.6 L661.2,1342.4 L663.8,1345.1 L666.5,1347.8 L669.2,1350.5 L671.9,1353.1 L674.6,1355.8 L677.4,1358.4 L680.1,1361.0 L682.9,1363.6 L685.7,1366.2 L688.6,1368.7 L691.4,1371.2 L694.3,1373.8 L697.2,1376.3 L700.1,1378.7 L703.1,1381.2 L706.0,1383.6 L709.0,1386.0 L712.0,1388.4 L715.0,1390.8 L718.0,1393.2 L721.1,1395.5 L724.2,1397.8 L727.3,1400.2 L730.4,1402.4 L733.5,1404.7 L736.7,1407.0 L739.8,1409.2 L743.0,1411.4 L746.2,1413.6 L749.5,1415.8 L752.7,1418.0 L756.0,1420.1 L759.3,1422.2 L762.6,1424.4 L765.9,1426.4 L769.2,1428.5 L772.6,1430.6 L776.0,1432.6 L779.4,1434.7 L782.9,1436.8 L786.4,1439.1 L789.8,1441.2 L793.3,1443.4 L796.9,1445.6 L800.4,1447.7 L804.0,1449.8 L807.6,1451.9 L811.2,1454.0 L814.9,1456.0 L818.6,1458.1 L822.2,1460.1 L826.0,1462.1 L829.7,1464.1 L833.5,1466.0 L837.2,1468.0 L841.1,1469.9 L844.9,1471.8 L848.7,1473.6 L852.6,1475.5 L856.5,1477.3 L860.4,1479.1 L864.4,1480.9 L868.4,1482.7 L872.4,1484.4 L876.3,1486.1 L880.3,1487.8 L884.3,1489.5 L888.3,1491.2 L892.4,1492.8 L896.5,1494.4 L900.6,1496.1 L904.7,1497.7 L908.8,1499.2 L913.0,1500.8 L917.2,1502.3 L921.5,1503.9 L925.7,1505.4 L930.0,1506.9 L934.3,1508.3 L938.7,1509.8 L943.0,1511.2 L947.4,1512.6 L951.8,1514.0 L956.3,1515.3 L960.8,1516.7 L965.3,1518.0 L969.8,1519.3 L974.3,1520.6 L978.9,1521.9 L983.6,1523.1 L988.2,1524.3 L992.9,1525.6 L997.6,1526.8 L1002.3,1528.0 L1007.1,1529.1 L1011.9,1530.3 L1016.7,1531.4 L1021.5,1532.6 L1026.4,1533.7 L1031.3,1534.8 L1036.3,1535.9 L1041.2,1536.9 L1046.2,1538.0 L1051.3,1539.1 L1056.3,1540.1 L1061.4,1541.1 L1066.6,1542.1 L1071.7,1543.1 L1076.9,1544.1 L1082.1,1545.1 L1087.4,1546.0 L1092.7,1547.0 L1098.0,1547.9 L1103.4,1548.9 L1108.7,1549.8 L1114.2,1550.7 L1119.6,1551.6 L1125.1,1552.5 L1130.6,1553.4 L1136.2,1554.3 L1141.8,1555.2 L1147.4,1556.0 L1153.1,1556.9 L1158.8,1557.8 L1164.5,1558.6 L1170.3,1559.4 L1176.1,1560.3 L1181.9,1561.1 L1187.8,1561.9 L1193.7,1562.7 L1199.7,1563.5 L1205.7,1564.3 L1211.7,1565.0 L1217.7,1565.8 L1223.8,1566.6 L1230.0,1567.3 L1236.2,1568.0 L1242.4,1568.8 L1248.6,1569.5 L1254.9,1570.2 L1261.2,1570.9 L1267.6,1571.6 L1274.0,1572.3 L1280.5,1573.0 L1287.0,1573.6 L1293.5,1574.3 L1300.1,1575.0 L1306.7,1575.6 L1313.3,1576.3 L1320.0,1576.9 L1326.8,1577.5 L1333.5,1578.1 L1340.4,1578.7 L1347.2,1579.3 L1354.1,1579.9 L1361.1,1580.5 L1368.1,1581.1 L1375.1,1581.7 L1382.2,1582.3 L1389.3,1582.8 L1396.5,1583.4 L1403.7,1584.0 L1410.9,1584.6 L1418.2,1585.2 L1425.6,1585.8 L1433.0,1586.4 L1440.4,1587.0 L1447.9,1587.6 L1455.4,1588.2 L1463.0,1588.8 L1470.6,1589.4 L1478.3,1589.9 L1486.0,1590.5 L1493.8,1591.1 L1501.6,1591.6 L1509.5,1592.2 L1517.4,1592.7 L1525.3,1593.2 L1533.3,1593.8 L1541.4,1594.3 L1549.5,1594.8 L1557.7,1595.3 L1565.9,1595.8 L1574.1,1596.3 L1582.5,1596.8 L1590.8,1597.3 L1599.2,1597.8 L1607.7,1598.3 L1616.2,1598.8 L1624.8,1599.3 L1633.4,1599.7 L1642.1,1600.2 L1650.9,1600.7 L1659.7,1601.1 L1668.5,1601.6 L1677.4,1602.0 L1686.4,1602.4 L1695.4,1602.9 L1704.4,1603.3 L1713.6,1603.7 L1722.7,1604.2 L1732.0,1604.6 L1741.3,1605.0 L1750.6,1605.4 L1760.0,1605.8 L1769.5,1606.2 L1779.0,1606.6 L1788.6,1607.0 L1798.3,1607.4 L1808.0,1607.8 L1817.8,1608.2 L1827.6,1608.5 L1837.5,1608.9 L1847.4,1609.3 L1857.4,1609.7 L1867.5,1610.0 L1877.6,1610.4 L1887.9,1610.7 L1898.1,1611.1 L1908.4,1611.4 L1918.8,1611.8 L1929.3,1612.1 L1939.8,1612.5 L1950.4,1612.8 L1961.1,1613.1 L1971.8,1613.4 L1982.6,1613.8 L1993.4,1614.1 L2004.3,1614.4 L2015.3,1614.7 L2026.4,1615.0 L2037.5,1615.3 L2048.7,1615.6 L2060.0,1615.9 L2071.3,1616.2 L2082.7,1616.5 L2094.2,1616.8 L2105.7,1617.1 L2117.3,1617.4 L2129.0,1617.7 L2140.8,1618.0 L2152.6,1618.2 L2164.5,1618.5 L2176.5,1618.8 L2188.6,1619.0 L2200.7,1619.3 L2212.9,1619.6 L2225.2,1619.8 L2237.6,1620.1 L2250.0,1620.3" stroke="#858570" stroke-width="18"/>
<path d="M226.0,96.0 L236.2,96.0 L296.3,101.6 L298.1,104.2 L299.8,106.8 L301.5,109.4 L303.1,112.0 L304.7,114.7 L306.1,117.4 L307.5,120.2 L308.8,122.9 L310.1,125.7 L311.3,128.5 L312.4,131.4 L313.4,134.2 L314.4,137.2 L315.4,140.1 L316.2,143.1 L317.0,146.1 L317.8,149.0 L318.5,152.0 L319.2,155.0 L319.9,158.0 L320.5,161.0 L321.2,164.1 L321.8,167.1 L322.3,170.1 L322.9,173.1 L323.5,176.2 L324.0,179.2 L324.6,182.2 L325.1,185.3 L325.6,188.3 L326.2,191.4 L326.7,194.4 L327.2,197.4 L327.7,200.5 L328.2,203.5 L328.7,206.5 L329.1,209.6 L329.6,212.6 L330.1,215.7 L330.5,218.7 L331.0,221.8 L331.4,224.8 L331.9,227.9 L332.3,230.9 L332.8,234.0 L333.2,236.7 L333.8,240.5 L334.4,244.2 L335.0,248.1 L335.6,252.0 L336.2,255.9 L336.8,260.0 L337.4,264.0 L338.0,268.2 L338.7,272.3 L339.3,276.6 L339.9,280.9 L340.5,285.2 L341.2,289.7 L341.8,294.1 L342.5,298.6 L343.1,303.2 L343.8,307.8 L344.4,312.5 L345.1,317.2 L345.8,322.0 L346.5,326.8 L347.2,331.7 L347.9,336.6 L348.6,341.6 L349.3,346.6 L350.0,351.7 L350.7,356.8 L351.5,362.0 L352.2,367.2 L352.9,372.4 L353.7,377.7 L354.4,383.0 L355.2,388.3 L356.0,393.7 L356.7,399.2 L357.5,404.6 L358.3,410.1 L359.1,415.7 L359.8,421.2 L360.6,426.8 L361.4,432.5 L362.2,438.1 L363.0,443.8 L363.7,449.5 L364.5,455.2 L365.3,461.0 L366.1,466.8 L366.9,472.6 L367.7,478.4 L368.5,484.3 L369.3,490.2 L370.1,496.0 L371.0,501.9 L371.8,507.9 L372.6,513.8 L373.5,519.7 L374.3,525.7 L375.1,531.7 L376.0,537.7 L376.9,543.7 L377.7,549.7 L378.6,555.7 L379.4,561.7 L380.3,567.7 L381.2,573.7 L382.1,579.8 L383.0,585.8 L383.8,591.8 L384.7,597.9 L385.6,603.9 L386.5,609.9 L387.4,616.0 L388.2,622.0 L389.1,628.0 L389.9,634.0 L390.7,640.0 L391.5,646.0 L392.3,652.0 L393.2,658.0 L394.0,664.0 L394.8,670.0 L395.6,676.0 L396.4,681.9 L397.3,687.8 L398.1,693.8 L399.0,699.7 L399.8,705.6 L400.7,711.5 L401.6,717.4 L402.5,723.2 L403.5,729.1 L404.5,734.9 L405.4,740.7 L406.5,746.5 L407.5,752.3 L408.6,758.0 L409.6,763.8 L410.7,769.5 L411.8,775.2 L412.9,780.9 L414.0,786.5 L415.1,792.1 L416.3,797.8 L417.4,803.4 L418.5,808.9 L419.7,814.5 L420.9,820.0 L422.0,825.5 L423.2,831.0 L424.4,836.4 L425.6,841.9 L426.8,847.3 L428.0,852.7 L429.3,858.0 L430.5,863.4 L431.7,868.7 L433.0,874.0 L434.2,879.2 L435.5,884.5 L436.8,889.7 L438.0,894.9 L439.3,900.0 L440.6,905.1 L441.9,910.2 L443.3,915.3 L444.6,920.4 L445.9,925.4 L447.3,930.4 L448.7,935.4 L450.1,940.3 L451.5,945.3 L452.9,950.1 L454.3,955.0 L455.7,959.9 L457.2,964.7 L458.6,969.5 L460.1,974.2 L461.6,979.0 L463.0,983.7 L464.5,988.3 L466.0,993.0 L467.5,997.6 L469.0,1002.2 L470.5,1006.8 L472.0,1011.4 L473.5,1015.9 L475.0,1020.4 L476.5,1024.8 L478.1,1029.3 L479.6,1033.7 L481.1,1038.1 L482.7,1042.5 L484.2,1046.8 L485.8,1051.1 L487.3,1055.4 L488.9,1059.7 L490.4,1063.9 L492.0,1068.1 L493.6,1072.3 L495.2,1076.5 L496.7,1080.6 L498.3,1084.7 L500.0,1088.8 L501.6,1092.8 L503.2,1096.9 L504.8,1100.9 L506.5,1104.9 L508.1,1108.8 L509.8,1112.8 L511.5,1116.7 L513.2,1120.6 L514.9,1124.4 L516.6,1128.3 L518.3,1132.1 L520.0,1135.9 L521.8,1139.6 L523.5,1143.4 L525.3,1147.1 L527.0,1150.8 L528.8,1154.5 L530.6,1158.1 L532.4,1161.7 L534.3,1165.3 L536.1,1168.9 L537.9,1172.5 L539.8,1176.0 L541.7,1179.5 L543.5,1183.0 L545.4,1186.5 L547.3,1189.9 L549.2,1193.4 L551.2,1196.8 L553.1,1200.2 L555.0,1203.5 L557.0,1206.9 L559.0,1210.2 L560.9,1213.5 L562.9,1216.8 L564.9,1220.0 L566.9,1223.3 L568.9,1226.5 L571.0,1229.7 L573.0,1232.8 L575.1,1236.0 L577.1,1239.1 L579.2,1242.2 L581.2,1245.3 L583.3,1248.4 L585.4,1251.5 L587.5,1254.5 L589.6,1257.5 L591.7,1260.5 L593.7,1263.5 L595.8,1266.4 L597.9,1269.4 L600.0,1272.3 L602.1,1275.2 L604.1,1278.1 L606.2,1280.9 L608.3,1283.8 L610.4,1286.6 L612.6,1289.4 L614.7,1292.2 L616.8,1295.0 L619.0,1297.7 L621.2,1300.4 L623.4,1303.2 L625.6,1305.9 L627.8,1308.5 L630.0,1311.2 L632.3,1313.9 L634.5,1316.5 L636.8,1319.1 L639.2,1321.7 L641.5,1324.3 L643.9,1326.8 L646.2,1329.4 L648.7,1331.9 L651.1,1334.4 L653.5,1336.9 L656.0,1339.4 L658.5,1341.8 L661.1,1344.3 L663.7,1346.7 L666.2,1349.1 L668.9,1351.5 L671.5,1353.9 L674.2,1356.3 L676.8,1358.6 L679.5,1360.9 L682.2,1363.2 L684.9,1365.5 L687.7,1367.8 L690.4,1370.1 L693.2,1372.4 L696.0,1374.6 L698.8,1376.8 L701.6,1379.0 L704.4,1381.2 L707.3,1383.4 L710.2,1385.6 L713.1,1387.7 L716.0,1389.8 L718.9,1392.0 L721.8,1394.1 L724.8,1396.2 L727.8,1398.2 L730.8,1400.3 L733.8,1402.3 L736.8,1404.4 L739.9,1406.4 L742.9,1408.4 L746.0,1410.4 L749.1,1412.4 L752.3,1414.3 L755.4,1416.3 L758.6,1418.2 L761.8,1420.1 L765.0,1422.0 L768.2,1423.9 L771.4,1425.8 L774.7,1427.7 L778.0,1429.5 L781.3,1431.4 L784.6,1433.2 L788.0,1435.1 L791.3,1436.9 L794.7,1438.7 L798.1,1440.6 L801.5,1442.3 L805.0,1444.1 L808.4,1445.9 L811.9,1447.7 L815.4,1449.4 L819.0,1451.1 L822.5,1452.8 L826.1,1454.5 L829.7,1456.2 L833.3,1457.9 L837.0,1459.6 L840.6,1461.2 L844.3,1462.9 L848.0,1464.5 L851.7,1466.1 L855.5,1467.7 L859.3,1469.3 L863.1,1470.9 L866.9,1472.5 L870.7,1474.0 L874.6,1475.6 L878.5,1477.1 L882.4,1478.6 L886.4,1480.1 L890.3,1481.6 L894.3,1483.1 L898.3,1484.6 L902.4,1486.0 L906.4,1487.5 L910.5,1488.9 L914.6,1490.3 L918.8,1491.7 L922.9,1493.1 L927.1,1494.5 L931.3,1495.9 L935.6,1497.3 L939.8,1498.6 L944.1,1499.9 L948.4,1501.3 L952.8,1502.6 L957.1,1503.9 L961.5,1505.2 L966.0,1506.4 L970.4,1507.7 L974.9,1509.0 L979.4,1510.2 L983.9,1511.4 L988.5,1512.7 L993.1,1513.9 L997.7,1515.1 L1002.3,1516.3 L1007.0,1517.5 L1011.7,1518.6 L1016.4,1519.8 L1021.2,1520.9 L1026.0,1522.1 L1030.8,1523.2 L1035.6,1524.3 L1040.5,1525.5 L1045.4,1526.6 L1050.3,1527.6 L1055.3,1528.7 L1060.3,1529.8 L1065.3,1530.9 L1070.4,1531.9 L1075.4,1533.0 L1080.6,1534.0 L1085.7,1535.0 L1090.9,1536.1 L1096.1,1537.1 L1101.3,1538.1 L1106.6,1539.1 L1111.9,1540.1 L1117.3,1541.0 L1122.6,1542.0 L1128.0,1543.0 L1133.5,1543.9 L1138.9,1544.9 L1144.5,1545.8 L1150.0,1546.7 L1155.6,1547.7 L1161.2,1548.6 L1166.8,1549.5 L1172.5,1550.4 L1178.2,1551.3 L1183.9,1552.2 L1189.7,1553.0 L1195.5,1553.9 L1201.4,1554.8 L1207.3,1555.6 L1213.2,1556.5 L1219.1,1557.3 L1225.1,1558.2 L1231.2,1559.0 L1237.2,1559.8 L1243.3,1560.6 L1249.5,1561.4 L1255.6,1562.2 L1261.9,1563.0 L1268.1,1563.8 L1274.4,1564.6 L1280.7,1565.3 L1287.1,1566.1 L1293.5,1566.8 L1300.0,1567.6 L1306.4,1568.3 L1313.0,1569.1 L1319.5,1569.8 L1326.1,1570.5 L1332.8,1571.2 L1339.5,1571.9 L1346.2,1572.6 L1353.0,1573.3 L1359.8,1574.0 L1366.6,1574.7 L1373.5,1575.4 L1380.4,1576.1 L1387.4,1576.7 L1394.4,1577.4 L1401.5,1578.0 L1408.6,1578.7 L1415.8,1579.3 L1422.9,1580.0 L1430.2,1580.6 L1437.5,1581.3 L1444.8,1581.9 L1452.1,1582.5 L1459.6,1583.1 L1467.0,1583.8 L1474.5,1584.4 L1482.1,1585.0 L1489.7,1585.6 L1497.3,1586.1 L1505.0,1586.7 L1512.7,1587.3 L1520.5,1587.9 L1528.4,1588.5 L1536.2,1589.0 L1544.2,1589.6 L1552.1,1590.1 L1560.2,1590.7 L1568.2,1591.2 L1576.3,1591.8 L1584.5,1592.3 L1592.7,1592.8 L1601.0,1593.3 L1609.3,1593.9 L1617.7,1594.4 L1626.1,1594.9 L1634.6,1595.4 L1643.1,1595.9 L1651.7,1596.4 L1660.3,1596.9 L1669.0,1597.4 L1677.7,1597.8 L1686.5,1598.3 L1695.4,1598.8 L1704.3,1599.2 L1713.2,1599.7 L1722.2,1600.2 L1731.3,1600.6 L1740.4,1601.1 L1749.6,1601.5 L1758.8,1602.0 L1768.1,1602.4 L1777.4,1602.8 L1786.8,1603.3 L1796.3,1603.7 L1805.8,1604.1 L1815.4,1604.5 L1825.0,1604.9 L1834.7,1605.3 L1844.4,1605.7 L1854.2,1606.1 L1864.1,1606.5 L1874.0,1606.9 L1884.0,1607.3 L1894.0,1607.7 L1904.2,1608.1 L1914.3,1608.4 L1924.6,1608.8 L1934.8,1609.2 L1945.2,1609.6 L1955.6,1609.9 L1966.1,1610.3 L1976.7,1610.6 L1987.3,1611.0 L1997.9,1611.3 L2008.7,1611.7 L2019.5,1612.0 L2030.4,1612.4 L2041.3,1612.7 L2052.3,1613.0 L2063.4,1613.3 L2074.5,1613.7 L2085.7,1614.0 L2097.0,1614.3 L2108.3,1614.6 L2119.8,1614.9 L2131.2,1615.2 L2142.8,1615.5 L2154.4,1615.8 L2166.1,1616.1 L2177.9,1616.4 L2189.7,1616.7 L2201.6,1617.0 L2213.6,1617.3 L2225.7,1617.6 L2237.8,1617.9 L2250.0,1618.1" stroke="#b86848" stroke-width="18"/>
<path d="M236.2,96.3 L238.8,96.3 L241.3,96.4 L243.9,96.5 L246.4,96.7 L249.0,96.9 L251.5,97.2 L254.0,97.7 L256.5,98.3 L259.0,98.9 L261.5,99.5 L263.9,100.1 L266.4,100.8 L268.9,101.4 L271.3,102.1 L273.8,102.7 L276.3,103.4 L278.7,104.1 L281.2,104.8 L283.7,105.5 L286.1,106.2 L288.6,106.8 L291.1,107.5 L293.5,108.1 L296.0,108.7 L298.5,109.4 L301.0,110.0 L303.4,110.7 L305.9,111.5 L308.3,112.3 L310.7,113.1 L313.1,114.1 L315.5,115.0 L317.8,116.0 L320.2,117.0 L322.5,118.0 L324.8,119.1 L327.1,120.2 L329.4,121.3 L331.7,122.5 L332.7,124.9 L333.7,127.3 L334.6,129.7 L335.6,132.1 L336.5,134.5 L337.4,136.9 L338.2,139.4 L339.0,141.8 L339.8,144.2 L340.5,146.7 L341.2,149.2 L341.8,151.7 L342.4,154.1 L343.0,156.6 L343.6,159.1 L344.1,161.7 L344.7,164.2 L345.2,166.7 L345.7,169.2 L346.2,171.8 L346.7,174.3 L347.2,176.8 L347.7,179.4 L348.1,181.9 L348.6,184.4 L349.1,187.0 L349.6,189.5 L350.1,192.1 L350.5,194.6 L351.0,197.1 L351.6,199.7 L352.1,202.2 L352.5,204.1 L353.2,207.0 L353.8,209.9 L354.5,212.8 L355.2,215.9 L355.9,218.9 L356.6,222.0 L357.2,225.1 L357.9,228.3 L358.6,231.6 L359.3,234.8 L360.0,238.2 L360.8,241.5 L361.5,244.9 L362.3,248.4 L363.1,251.9 L363.8,255.4 L364.6,259.0 L365.4,262.6 L366.2,266.3 L366.9,270.0 L367.7,273.8 L368.5,277.6 L369.3,281.4 L370.1,285.3 L370.8,289.2 L371.6,293.1 L372.4,297.1 L373.2,301.1 L374.0,305.2 L374.7,309.3 L375.5,313.4 L376.3,317.6 L377.1,321.8 L377.9,326.1 L378.7,330.3 L379.5,334.6 L380.3,339.0 L381.1,343.3 L381.9,347.7 L382.7,352.2 L383.5,356.6 L384.4,361.1 L385.2,365.6 L386.0,370.2 L386.9,374.7 L387.7,379.3 L388.5,383.9 L389.4,388.6 L390.2,393.3 L391.1,397.9 L392.0,402.7 L392.8,407.4 L393.7,412.1 L394.6,416.9 L395.5,421.7 L396.4,426.5 L397.3,431.3 L398.2,436.2 L399.1,441.1 L400.1,445.9 L401.0,450.8 L402.0,455.7 L402.9,460.7 L403.9,465.6 L404.8,470.5 L405.8,475.5 L406.8,480.5 L407.7,485.4 L408.7,490.4 L409.7,495.4 L410.7,500.4 L411.7,505.5 L412.7,510.5 L413.7,515.5 L414.7,520.5 L415.8,525.6 L416.8,530.6 L417.8,535.7 L418.9,540.7 L419.9,545.8 L421.0,550.8 L422.0,555.9 L423.1,561.0 L424.2,566.0 L425.2,571.1 L426.3,576.1 L427.4,581.2 L428.5,586.3 L429.6,591.3 L430.7,596.4 L431.8,601.4 L432.9,606.5 L434.1,611.5 L435.2,616.6 L436.3,621.6 L437.5,626.7 L438.7,631.7 L439.8,636.7 L441.0,641.7 L442.2,646.7 L443.3,651.7 L444.5,656.7 L445.7,661.7 L446.9,666.7 L448.1,671.7 L449.3,676.7 L450.6,681.6 L451.8,686.6 L453.0,691.5 L454.3,696.5 L455.5,701.4 L456.8,706.3 L458.0,711.2 L459.3,716.1 L460.6,721.0 L461.9,725.8 L463.2,730.7 L464.5,735.5 L465.8,740.4 L467.1,745.2 L468.4,750.0 L469.7,754.8 L471.1,759.6 L472.4,764.4 L473.8,769.2 L475.2,773.9 L476.6,778.6 L478.0,783.4 L479.4,788.1 L480.8,792.8 L482.2,797.5 L483.7,802.1 L485.1,806.8 L486.6,811.4 L488.0,816.1 L489.5,820.7 L491.0,825.3 L492.5,829.9 L494.0,834.5 L495.5,839.0 L497.0,843.6 L498.5,848.1 L500.1,852.6 L501.6,857.1 L503.1,861.6 L504.7,866.1 L506.2,870.5 L507.8,875.0 L509.4,879.4 L510.9,883.8 L512.5,888.2 L514.1,892.6 L515.7,896.9 L517.3,901.3 L518.9,905.6 L520.5,909.9 L522.1,914.3 L523.7,918.5 L525.2,922.8 L526.8,927.1 L528.4,931.3 L530.0,935.5 L531.6,939.8 L533.2,944.0 L534.8,948.1 L536.4,952.3 L538.0,956.5 L539.6,960.6 L541.2,964.7 L542.9,968.8 L544.5,972.9 L546.1,977.0 L547.8,981.0 L549.5,985.1 L551.1,989.1 L552.8,993.1 L554.5,997.1 L556.3,1001.1 L558.0,1005.1 L559.7,1009.0 L561.5,1012.9 L563.3,1016.9 L565.1,1020.8 L566.9,1024.6 L568.7,1028.5 L570.6,1032.4 L572.4,1036.2 L574.3,1040.0 L576.2,1043.8 L578.2,1047.6 L580.1,1051.4 L582.1,1055.2 L584.1,1058.9 L586.0,1062.7 L588.0,1066.4 L590.0,1070.1 L592.1,1073.8 L594.1,1077.4 L596.1,1081.1 L598.2,1084.7 L600.3,1088.4 L602.4,1092.0 L604.5,1095.6 L606.6,1099.1 L608.7,1102.7 L610.8,1106.2 L613.0,1109.8 L615.1,1113.3 L617.3,1116.8 L619.5,1120.3 L621.7,1123.8 L623.9,1127.2 L626.2,1130.7 L628.4,1134.1 L630.7,1137.5 L632.9,1140.9 L635.2,1144.3 L637.5,1147.6 L639.8,1151.0 L642.2,1154.3 L644.5,1157.6 L646.9,1160.9 L649.3,1164.2 L651.7,1167.5 L654.1,1170.7 L656.5,1174.0 L658.9,1177.2 L661.4,1180.4 L663.9,1183.6 L666.3,1186.8 L668.8,1190.0 L671.3,1193.1 L673.9,1196.3 L676.4,1199.4 L679.0,1202.5 L681.5,1205.6 L684.1,1208.7 L686.7,1211.7 L689.3,1214.8 L692.0,1217.8 L694.6,1220.8 L697.3,1223.8 L699.9,1226.8 L702.6,1229.8 L705.3,1232.7 L708.0,1235.7 L710.8,1238.6 L713.5,1241.5 L716.3,1244.4 L719.0,1247.3 L721.8,1250.2 L724.6,1253.0 L727.4,1255.9 L730.2,1258.7 L733.0,1261.5 L735.8,1264.3 L738.7,1267.1 L741.5,1269.8 L744.4,1272.6 L747.2,1275.3 L750.1,1278.0 L753.0,1280.7 L755.9,1283.4 L758.8,1286.1 L761.8,1288.8 L764.7,1291.4 L767.7,1294.0 L770.7,1296.7 L773.7,1299.3 L776.7,1301.8 L779.7,1304.4 L782.8,1307.0 L785.9,1309.6 L789.0,1312.2 L792.1,1314.8 L795.2,1317.3 L798.4,1319.9 L801.5,1322.4 L804.8,1324.9 L808.0,1327.4 L811.2,1329.9 L814.5,1332.4 L817.8,1334.8 L821.1,1337.2 L824.5,1339.7 L827.8,1342.1 L831.2,1344.5 L834.7,1346.9 L838.1,1349.2 L841.6,1351.6 L845.1,1353.9 L848.6,1356.3 L852.2,1358.6 L855.7,1360.9 L859.3,1363.1 L862.9,1365.4 L866.6,1367.7 L870.3,1369.9 L874.0,1372.1 L877.7,1374.3 L881.4,1376.5 L885.2,1378.7 L889.0,1380.8 L892.8,1383.0 L896.6,1385.1 L900.5,1387.2 L904.4,1389.3 L908.3,1391.4 L912.2,1393.5 L916.2,1395.5 L920.2,1397.6 L924.2,1399.6 L928.2,1401.6 L932.3,1403.6 L936.3,1405.6 L940.4,1407.5 L944.5,1409.5 L948.7,1411.4 L952.8,1413.3 L957.0,1415.2 L961.2,1417.1 L965.5,1418.9 L969.7,1420.8 L974.0,1422.6 L978.3,1424.4 L982.6,1426.3 L987.0,1428.1 L991.4,1429.9 L995.8,1431.6 L1000.2,1433.4 L1004.7,1435.2 L1009.2,1436.9 L1013.7,1438.6 L1018.3,1440.3 L1022.8,1442.0 L1027.4,1443.7 L1032.1,1445.4 L1036.7,1447.1 L1041.4,1448.7 L1046.1,1450.4 L1050.8,1452.0 L1055.6,1453.6 L1060.4,1455.3 L1065.2,1456.8 L1070.1,1458.4 L1074.9,1460.0 L1079.8,1461.6 L1084.8,1463.1 L1089.7,1464.7 L1094.7,1466.2 L1099.7,1467.7 L1104.8,1469.2 L1109.8,1470.7 L1114.9,1472.2 L1120.1,1473.7 L1125.2,1475.1 L1130.4,1476.6 L1135.6,1478.0 L1140.9,1479.4 L1146.1,1480.8 L1151.4,1482.3 L1156.7,1483.6 L1161.9,1485.0 L1167.2,1486.4 L1172.6,1487.7 L1177.9,1489.1 L1183.3,1490.4 L1188.8,1491.7 L1194.2,1493.0 L1199.7,1494.3 L1205.2,1495.6 L1210.8,1496.9 L1216.4,1498.1 L1222.0,1499.4 L1227.6,1500.6 L1233.3,1501.8 L1239.0,1503.0 L1244.8,1504.2 L1250.6,1505.4 L1256.4,1506.6 L1262.2,1507.7 L1268.1,1508.9 L1274.0,1510.0 L1280.0,1511.1 L1286.0,1512.2 L1292.0,1513.3 L1298.0,1514.4 L1304.1,1515.5 L1310.2,1516.6 L1316.4,1517.6 L1322.6,1518.7 L1328.8,1519.7 L1335.1,1520.7 L1341.4,1521.7 L1347.7,1522.7 L1354.1,1523.7 L1360.5,1524.7 L1366.9,1525.7 L1373.4,1526.7 L1379.9,1527.6 L1386.5,1528.6 L1393.1,1529.5 L1399.7,1530.4 L1406.4,1531.4 L1413.1,1532.4 L1419.8,1533.4 L1426.6,1534.4 L1433.4,1535.4 L1440.3,1536.3 L1447.2,1537.3 L1454.1,1538.2 L1461.1,1539.2 L1468.1,1540.1 L1475.2,1541.0 L1482.3,1541.9 L1489.4,1542.9 L1496.6,1543.8 L1503.8,1544.7 L1511.1,1545.5 L1518.4,1546.4 L1525.7,1547.3 L1533.1,1548.2 L1540.6,1549.0 L1548.0,1549.9 L1555.6,1550.7 L1563.1,1551.6 L1570.7,1552.4 L1578.4,1553.2 L1586.1,1554.0 L1593.8,1554.9 L1601.6,1555.7 L1609.4,1556.5 L1617.3,1557.3 L1625.2,1558.0 L1633.1,1558.8 L1641.1,1559.6 L1649.2,1560.4 L1657.3,1561.1 L1665.4,1561.9 L1673.6,1562.6 L1681.9,1563.4 L1690.2,1564.1 L1698.5,1564.9 L1706.9,1565.6 L1715.3,1566.3 L1723.8,1567.0 L1732.3,1567.7 L1740.9,1568.4 L1749.5,1569.1 L1758.2,1569.8 L1766.9,1570.5 L1775.7,1571.2 L1784.5,1571.9 L1793.4,1572.5 L1802.3,1573.2 L1811.3,1573.9 L1820.3,1574.5 L1829.4,1575.2 L1838.5,1575.8 L1847.7,1576.4 L1856.9,1577.1 L1866.2,1577.7 L1875.5,1578.3 L1884.9,1579.0 L1894.4,1579.6 L1903.9,1580.2 L1913.4,1580.8 L1923.1,1581.4 L1932.7,1582.0 L1942.5,1582.6 L1952.2,1583.1 L1962.1,1583.7 L1972.0,1584.3 L1981.9,1584.9 L1991.9,1585.4 L2002.0,1586.0 L2012.1,1586.6 L2022.3,1587.1 L2032.5,1587.7 L2042.8,1588.2 L2053.2,1588.8 L2063.6,1589.3 L2074.0,1589.8 L2084.6,1590.4 L2095.2,1590.9 L2105.8,1591.4 L2116.5,1591.9 L2127.3,1592.4 L2138.1,1592.9 L2149.0,1593.4 L2160.0,1593.9 L2171.0,1594.4 L2182.1,1594.9 L2193.3,1595.4 L2204.5,1595.9 L2215.8,1596.4 L2227.1,1596.8 L2238.5,1597.3 L2250.0,1597.8" stroke="#5f8b8e" stroke-width="18"/>
<path d="M226.0,96.0 L236.2,96.0 L244.3,96.2 L245.1,98.8 L245.9,101.4 L246.6,104.1 L247.3,106.7 L247.9,109.3 L248.6,112.0 L249.4,114.6 L250.3,117.2 L251.2,119.7 L252.2,122.3 L253.2,124.8 L254.1,127.4 L255.0,129.9 L255.8,132.5 L256.7,135.1 L257.5,137.7 L258.4,140.3 L259.3,142.9 L260.2,145.4 L261.1,148.0 L261.9,150.6 L262.7,153.2 L263.4,155.8 L264.2,158.5 L264.9,161.1 L265.7,163.7 L266.4,166.4 L267.1,169.0 L267.8,171.6 L268.4,174.3 L269.1,176.9 L269.8,179.6 L270.4,182.2 L271.1,184.9 L271.7,187.5 L272.3,190.2 L272.9,192.8 L273.5,195.5 L274.1,198.1 L274.7,200.8 L275.3,203.5 L275.8,206.1 L276.4,208.8 L276.9,211.5 L277.5,214.1 L278.0,216.8 L278.5,219.5 L279.1,222.2 L279.6,224.9 L280.1,227.5 L280.6,230.2 L281.1,232.9 L281.7,235.6 L282.1,237.7 L282.4,239.4 L282.8,241.2 L283.1,242.9 L283.5,244.7 L283.9,246.5 L284.2,248.3 L284.6,250.2 L284.9,252.1 L285.3,253.9 L285.7,255.8 L286.1,257.8 L286.4,259.7 L286.8,261.7 L287.2,263.7 L287.6,265.7 L288.0,267.8 L288.4,269.9 L288.8,271.9 L289.2,274.1 L289.6,276.2 L290.0,278.4 L290.4,280.6 L290.8,282.8 L291.2,285.0 L291.6,287.3 L292.1,289.5 L292.5,291.9 L292.9,294.2 L293.3,296.6 L293.8,298.9 L294.2,301.3 L294.7,303.8 L295.1,306.2 L295.6,308.7 L296.0,311.2 L296.5,313.8 L297.0,316.3 L297.4,318.9 L297.9,321.5 L298.4,324.2 L298.9,326.8 L299.4,329.5 L299.8,332.3 L300.3,335.0 L300.9,337.8 L301.4,340.6 L301.9,343.4 L302.4,346.3 L302.9,349.1 L303.4,352.0 L304.0,355.0 L304.5,357.9 L305.0,360.9 L305.6,363.9 L306.1,367.0 L306.7,370.0 L307.2,373.1 L307.8,376.3 L308.4,379.4 L308.9,382.6 L309.5,385.8 L310.1,389.0 L310.6,392.3 L311.2,395.6 L311.8,398.9 L312.4,402.2 L313.0,405.6 L313.6,409.0 L314.2,412.4 L314.8,415.8 L315.4,419.3 L316.0,422.8 L316.6,426.3 L317.2,429.9 L317.8,433.5 L318.5,437.1 L319.1,440.7 L319.7,444.4 L320.3,448.0 L321.0,451.7 L321.6,455.5 L322.2,459.2 L322.8,463.0 L323.5,466.8 L324.1,470.7 L324.7,474.5 L325.3,478.4 L326.0,482.3 L326.6,486.3 L327.2,490.2 L327.9,494.2 L328.5,498.2 L329.2,502.3 L329.8,506.3 L330.5,510.4 L331.1,514.5 L331.8,518.6 L332.4,522.8 L333.1,526.9 L333.7,531.1 L334.4,535.3 L335.1,539.6 L335.8,543.8 L336.4,548.1 L337.1,552.4 L337.8,556.7 L338.5,561.1 L339.2,565.4 L339.9,569.8 L340.7,574.2 L341.4,578.6 L342.1,583.1 L342.9,587.5 L343.6,592.0 L344.4,596.5 L345.1,601.0 L345.9,605.5 L346.7,610.1 L347.5,614.6 L348.3,619.2 L349.1,623.8 L349.9,628.4 L350.7,633.0 L351.5,637.6 L352.3,642.3 L353.1,646.9 L353.9,651.6 L354.8,656.3 L355.6,661.0 L356.5,665.7 L357.3,670.5 L358.2,675.2 L359.1,679.9 L360.0,684.7 L360.9,689.5 L361.8,694.2 L362.7,699.0 L363.6,703.8 L364.5,708.6 L365.4,713.4 L366.4,718.3 L367.3,723.1 L368.3,727.9 L369.3,732.8 L370.3,737.6 L371.2,742.5 L372.2,747.3 L373.3,752.2 L374.3,757.0 L375.3,761.9 L376.3,766.8 L377.4,771.7 L378.4,776.5 L379.5,781.4 L380.6,786.3 L381.6,791.2 L382.7,796.1 L383.8,801.0 L384.9,805.9 L386.0,810.7 L387.1,815.6 L388.3,820.5 L389.4,825.4 L390.6,830.3 L391.7,835.1 L392.9,840.0 L394.1,844.9 L395.3,849.8 L396.5,854.6 L397.7,859.5 L399.0,864.3 L400.2,869.2 L401.5,874.0 L402.7,878.9 L404.0,883.7 L405.3,888.5 L406.6,893.3 L407.9,898.1 L409.2,903.0 L410.6,907.7 L412.0,912.5 L413.4,917.3 L414.8,922.1 L416.2,926.8 L417.6,931.6 L419.1,936.3 L420.6,941.0 L422.1,945.8 L423.6,950.5 L425.1,955.2 L426.7,959.8 L428.2,964.5 L429.8,969.2 L431.4,973.8 L433.0,978.4 L434.6,983.1 L436.2,987.7 L437.8,992.3 L439.5,996.8 L441.1,1001.4 L442.8,1005.9 L444.5,1010.5 L446.2,1015.0 L447.9,1019.5 L449.6,1024.0 L451.3,1028.4 L453.1,1032.9 L454.8,1037.3 L456.5,1041.8 L458.3,1046.2 L460.1,1050.6 L461.8,1054.9 L463.6,1059.3 L465.4,1063.6 L467.2,1067.9 L469.1,1072.2 L470.9,1076.5 L472.8,1080.8 L474.6,1085.0 L476.5,1089.3 L478.4,1093.5 L480.3,1097.6 L482.2,1101.8 L484.2,1106.0 L486.1,1110.1 L488.1,1114.2 L490.0,1118.3 L492.0,1122.4 L494.0,1126.4 L496.1,1130.5 L498.1,1134.5 L500.1,1138.5 L502.2,1142.4 L504.3,1146.4 L506.4,1150.3 L508.5,1154.2 L510.6,1158.1 L512.8,1162.0 L514.9,1165.9 L517.1,1169.7 L519.3,1173.5 L521.5,1177.3 L523.7,1181.1 L526.0,1184.8 L528.2,1188.5 L530.5,1192.2 L532.8,1195.9 L535.1,1199.6 L537.4,1203.2 L539.8,1206.8 L542.1,1210.4 L544.5,1214.0 L546.9,1217.6 L549.3,1221.1 L551.8,1224.6 L554.2,1228.1 L556.7,1231.6 L559.2,1235.0 L561.7,1238.5 L564.2,1241.9 L566.8,1245.3 L569.4,1248.6 L572.0,1252.0 L574.6,1255.3 L577.3,1258.6 L580.0,1261.9 L582.7,1265.2 L585.4,1268.4 L588.2,1271.6 L591.0,1274.8 L593.8,1278.0 L596.7,1281.2 L599.6,1284.3 L602.5,1287.4 L605.4,1290.5 L608.3,1293.6 L611.3,1296.6 L614.3,1299.7 L617.3,1302.7 L620.3,1305.7 L623.3,1308.7 L626.3,1311.6 L629.4,1314.6 L632.5,1317.5 L635.6,1320.4 L638.7,1323.2 L641.8,1326.1 L645.0,1328.9 L648.1,1331.7 L651.3,1334.5 L654.5,1337.3 L657.7,1340.1 L660.9,1342.8 L664.1,1345.5 L667.4,1348.2 L670.6,1350.9 L673.9,1353.6 L677.1,1356.2 L680.4,1358.8 L683.6,1361.4 L686.9,1364.0 L690.2,1366.6 L693.5,1369.1 L696.8,1371.6 L700.1,1374.2 L703.4,1376.6 L706.8,1379.1 L710.1,1381.6 L713.5,1384.0 L716.9,1386.4 L720.4,1388.8 L723.8,1391.2 L727.3,1393.6 L730.9,1395.9 L734.4,1398.3 L738.0,1400.6 L741.6,1402.9 L745.3,1405.2 L749.0,1407.4 L752.7,1409.7 L756.5,1411.9 L760.3,1414.1 L764.2,1416.3 L768.1,1418.5 L772.0,1420.6 L776.0,1422.8 L780.0,1424.9 L784.1,1427.2 L788.2,1429.4 L792.3,1431.6 L796.4,1433.8 L800.6,1435.9 L804.8,1438.1 L809.1,1440.2 L813.4,1442.3 L817.7,1444.4 L822.1,1446.5 L826.5,1448.6 L830.9,1450.6 L835.4,1452.6 L839.9,1454.7 L844.4,1456.7 L849.0,1458.6 L853.6,1460.6 L858.3,1462.6 L862.9,1464.5 L867.7,1466.4 L872.4,1468.3 L877.3,1470.2 L882.1,1472.1 L887.0,1474.0 L891.9,1475.8 L896.9,1477.6 L901.9,1479.5 L906.9,1481.2 L912.0,1483.0 L917.2,1484.8 L922.4,1486.6 L927.7,1488.3 L933.0,1490.1 L938.3,1491.8 L943.7,1493.5 L949.1,1495.2 L954.6,1496.8 L960.1,1498.5 L965.6,1500.0 L971.2,1501.6 L976.9,1503.1 L982.5,1504.7 L988.3,1506.1 L994.0,1507.6 L999.8,1509.1 L1005.7,1510.5 L1011.6,1511.9 L1017.5,1513.3 L1023.5,1514.7 L1029.6,1516.1 L1035.6,1517.5 L1041.8,1518.8 L1047.9,1520.1 L1054.2,1521.4 L1060.4,1522.7 L1066.7,1524.0 L1073.1,1525.3 L1079.5,1526.5 L1086.0,1527.7 L1092.5,1529.0 L1099.1,1530.2 L1105.7,1531.4 L1112.3,1532.6 L1119.1,1533.8 L1125.8,1534.9 L1132.6,1536.1 L1139.5,1537.3 L1146.4,1538.4 L1153.4,1539.6 L1160.4,1540.7 L1167.5,1541.9 L1174.7,1543.0 L1181.9,1544.1 L1189.1,1545.2 L1196.4,1546.3 L1203.8,1547.4 L1211.2,1548.4 L1218.7,1549.5 L1226.2,1550.5 L1233.8,1551.6 L1241.4,1552.6 L1249.1,1553.6 L1256.9,1554.6 L1264.7,1555.6 L1272.6,1556.6 L1280.5,1557.6 L1288.5,1558.6 L1296.6,1559.5 L1304.7,1560.5 L1312.9,1561.4 L1321.2,1562.4 L1329.5,1563.3 L1337.9,1564.2 L1346.3,1565.1 L1354.8,1566.0 L1363.4,1566.9 L1372.0,1567.8 L1380.7,1568.6 L1389.5,1569.5 L1398.4,1570.3 L1407.3,1571.2 L1416.2,1572.1 L1425.3,1573.0 L1434.4,1573.9 L1443.6,1574.8 L1452.8,1575.6 L1462.2,1576.5 L1471.6,1577.3 L1481.0,1578.2 L1490.6,1579.0 L1500.2,1579.8 L1509.9,1580.6 L1519.6,1581.4 L1529.5,1582.2 L1539.4,1583.0 L1549.4,1583.8 L1559.4,1584.6 L1569.6,1585.3 L1579.8,1586.1 L1590.1,1586.8 L1600.5,1587.6 L1610.9,1588.3 L1621.5,1589.0 L1632.1,1589.8 L1642.8,1590.5 L1653.6,1591.2 L1664.4,1591.9 L1675.4,1592.5 L1686.4,1593.2 L1697.5,1593.9 L1708.7,1594.6 L1720.0,1595.2 L1731.4,1595.9 L1742.8,1596.5 L1754.4,1597.1 L1766.0,1597.8 L1777.7,1598.4 L1789.6,1599.0 L1801.5,1599.6 L1813.5,1600.2 L1825.6,1600.8 L1837.7,1601.4 L1850.0,1602.0 L1862.4,1602.5 L1874.8,1603.1 L1887.4,1603.7 L1900.1,1604.2 L1912.8,1604.8 L1925.7,1605.3 L1938.6,1605.8 L1951.7,1606.4 L1964.8,1606.9 L1978.1,1607.4 L1991.4,1607.9 L2004.9,1608.4 L2018.4,1608.9 L2032.1,1609.4 L2045.8,1609.9 L2059.7,1610.3 L2073.7,1610.8 L2087.8,1611.3 L2102.0,1611.7 L2116.3,1612.2 L2130.7,1612.6 L2145.2,1613.1 L2159.8,1613.5 L2174.6,1613.9 L2189.4,1614.4 L2204.4,1614.8 L2219.5,1615.2 L2234.7,1615.6 L2250.0,1616.0" stroke="#c4503e" stroke-width="18"/>
</g>
<path d="M236.2,1637.4h29.3 M236.2,1483.3h29.3 M236.2,1329.1h29.3 M236.2,1175.0h29.3 M236.2,1020.8h29.3 M236.2,866.7h29.3 M236.2,712.5h29.3 M236.2,558.4h29.3 M236.2,404.3h29.3 M236.2,250.1h29.3 M236.2,96.0h29.3 M236.2,1560.3h14.5 M236.2,1406.2h14.5 M236.2,1252.0h14.5 M236.2,1097.9h14.5 M236.2,943.8h14.5 M236.2,789.6h14.5 M236.2,635.5h14.5 M236.2,481.3h14.5 M236.2,327.2h14.5 M236.2,173.0h14.5 M607.9,1637.4v-29 M979.7,1637.4v-29 M1351.4,1637.4v-29 M1723.2,1637.4v-29 M2094.9,1637.4v-29 M422.1,1637.4v-14.3 M793.8,1637.4v-14.3 M1165.6,1637.4v-14.3 M1537.3,1637.4v-14.3 M1909.0,1637.4v-14.3" stroke="#000" stroke-width="6.5" fill="none"/>
<line x1="241" y1="868.2" x2="2221" y2="868.2" stroke="#ff0000" stroke-width="10.4" stroke-dasharray="55 51.9"/>
<rect x="236.2" y="18.9" width="2007.4" height="1618.5" fill="none" stroke="#000" stroke-width="7"/>
<g font-family="'Liberation Serif', 'Times New Roman', serif" font-size="70" fill="#000">
<text x="203.5" y="1658.9" text-anchor="end">0.0</text>
<text x="203.5" y="1504.8" text-anchor="end">0.1</text>
<text x="203.5" y="1350.6" text-anchor="end">0.2</text>
<text x="203.5" y="1196.5" text-anchor="end">0.3</text>
<text x="203.5" y="1042.3" text-anchor="end">0.4</text>
<text x="203.5" y="888.2" text-anchor="end">0.5</text>
<text x="203.5" y="734.0" text-anchor="end">0.6</text>
<text x="203.5" y="579.9" text-anchor="end">0.7</text>
<text x="203.5" y="425.8" text-anchor="end">0.8</text>
<text x="203.5" y="271.6" text-anchor="end">0.9</text>
<text x="203.5" y="117.5" text-anchor="end">1.0</text>
<text x="236.2" y="1724.3" text-anchor="middle">0</text>
<text x="607.9" y="1724.3" text-anchor="middle">10,000</text>
<text x="979.7" y="1724.3" text-anchor="middle">20,000</text>
<text x="1351.4" y="1724.3" text-anchor="middle">30,000</text>
<text x="1723.2" y="1724.3" text-anchor="middle">40,000</text>
<text x="2094.9" y="1724.3" text-anchor="middle">50,000</text>
<line x1="1644.5" y1="71.8" x2="1802.5" y2="71.8" stroke="#9b4e30" stroke-width="17.6" stroke-linecap="round"/>
<text x="1820" y="95.6">5% g-<tspan dx="2.4">C</tspan><tspan font-size="47" dy="18.5" dx="0">3</tspan><tspan dy="-18.5" dx="1.3">N</tspan><tspan font-size="47" dy="18.5">4</tspan></text>
<line x1="1644.5" y1="174.9" x2="1802.5" y2="174.9" stroke="#b86848" stroke-width="17.6" stroke-linecap="round"/>
<text x="1820" y="198.7">4% g-<tspan dx="2.4">C</tspan><tspan font-size="47" dy="18.5" dx="0">3</tspan><tspan dy="-18.5" dx="1.3">N</tspan><tspan font-size="47" dy="18.5">4</tspan></text>
<line x1="1644.5" y1="278.0" x2="1802.5" y2="278.0" stroke="#c4503e" stroke-width="17.6" stroke-linecap="round"/>
<text x="1820" y="301.8">3% g-<tspan dx="2.4">C</tspan><tspan font-size="47" dy="18.5" dx="0">3</tspan><tspan dy="-18.5" dx="1.3">N</tspan><tspan font-size="47" dy="18.5">4</tspan></text>
<line x1="1644.5" y1="381.1" x2="1802.5" y2="381.1" stroke="#5f8b8e" stroke-width="17.6" stroke-linecap="round"/>
<text x="1820" y="404.9">5% nano-<tspan dx="2.4">TiO</tspan><tspan font-size="47" dy="18.5" dx="2.5">2</tspan></text>
<line x1="1644.5" y1="484.2" x2="1802.5" y2="484.2" stroke="#858570" stroke-width="17.6" stroke-linecap="round"/>
<text x="1820" y="508.0">4% nano-<tspan dx="2.4">TiO</tspan><tspan font-size="47" dy="18.5" dx="2.5">2</tspan></text>
<line x1="1644.5" y1="587.3" x2="1802.5" y2="587.3" stroke="#b58a60" stroke-width="17.6" stroke-linecap="round"/>
<text x="1820" y="611.1">3% nano-<tspan dx="2.4">TiO</tspan><tspan font-size="47" dy="18.5" dx="2.5">2</tspan></text>
<line x1="1644.5" y1="690.4" x2="1802.5" y2="690.4" stroke="#e8875b" stroke-width="17.6" stroke-linecap="round"/>
<text x="1820" y="714.2">BA</text>
</g>
<g font-family="'Liberation Serif', 'Times New Roman', serif" font-size="84" font-weight="bold" fill="#000">
<text x="1239.5" y="1852.3" text-anchor="middle" letter-spacing="0.4">Number of cycles</text>
<text transform="translate(82.7,828) rotate(-90)" text-anchor="middle">S</text>
</g>
</svg>
</body></html>
